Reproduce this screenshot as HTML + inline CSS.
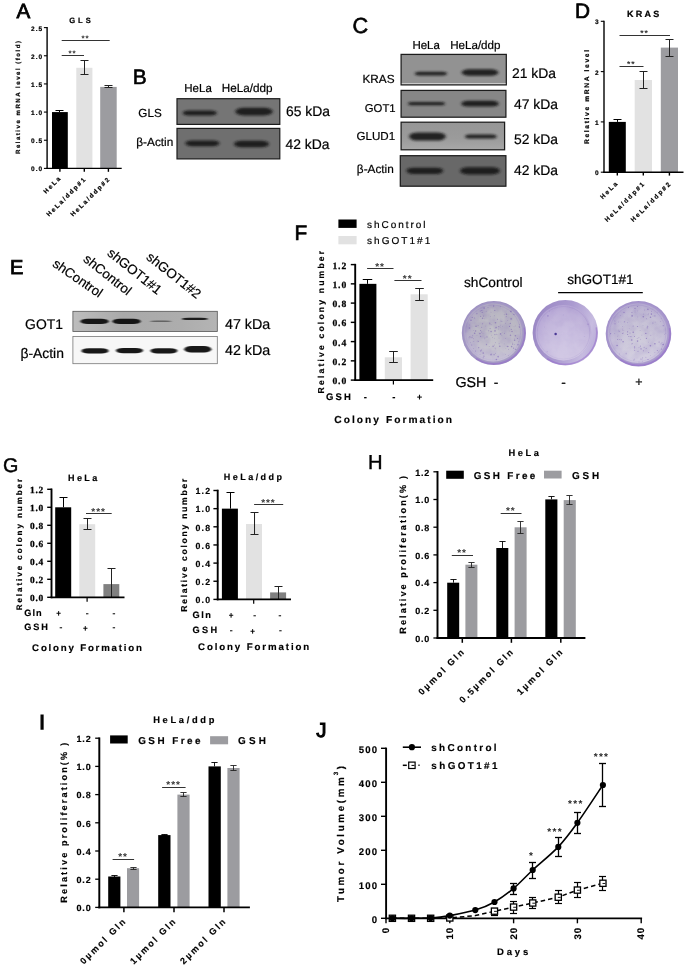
<!DOCTYPE html>
<html><head><meta charset="utf-8"><title>Figure</title>
<style>html,body{margin:0;padding:0;background:#fff}svg{display:block}text{white-space:pre;text-rendering:geometricPrecision}</style></head>
<body><svg width="685" height="967" viewBox="0 0 685 967">
<rect width="685" height="967" fill="#fff"/>
<defs>
<filter id="b1" x="-20%" y="-80%" width="140%" height="260%"><feGaussianBlur stdDeviation="1.5 0.95"/></filter>
<filter id="b2" x="-20%" y="-80%" width="140%" height="260%"><feGaussianBlur stdDeviation="1.3 0.75"/></filter>
<filter id="b4" x="-10%" y="-10%" width="120%" height="120%"><feGaussianBlur stdDeviation="0.7"/></filter>
<filter id="b5" x="-10%" y="-10%" width="120%" height="120%"><feGaussianBlur stdDeviation="0.45"/></filter>
<filter id="b3" x="-10%" y="-10%" width="120%" height="120%"><feGaussianBlur stdDeviation="1.2"/></filter>
<radialGradient id="rim1" cx="50%" cy="50%" r="50%"><stop offset="0.85" stop-color="#aaa0c6"/><stop offset="0.95" stop-color="#a296c4"/><stop offset="1" stop-color="#9c8fc0"/></radialGradient>
<linearGradient id="rim2" x1="0" x2="1" y1="0.3" y2="0.6"><stop offset="0" stop-color="#9a87c4"/><stop offset="0.5" stop-color="#ab9bd0"/><stop offset="0.85" stop-color="#c7bce0"/><stop offset="1" stop-color="#b9acd8"/></linearGradient>
<radialGradient id="rim3" cx="50%" cy="50%" r="50%"><stop offset="0.85" stop-color="#b0a3d0"/><stop offset="0.95" stop-color="#a695cc"/><stop offset="1" stop-color="#9f8ec8"/></radialGradient>
<radialGradient id="d1" cx="56%" cy="45%" r="58%"><stop offset="0" stop-color="#bfbec5"/><stop offset="0.6" stop-color="#b7b4c1"/><stop offset="1" stop-color="#aaa0c4"/></radialGradient>
<radialGradient id="d2" cx="55%" cy="55%" r="58%"><stop offset="0" stop-color="#c9bee0"/><stop offset="0.65" stop-color="#c0b3da"/><stop offset="1" stop-color="#b3a3d4"/></radialGradient>
<radialGradient id="d3" cx="52%" cy="52%" r="58%"><stop offset="0" stop-color="#c9c5d6"/><stop offset="0.65" stop-color="#c2bcd4"/><stop offset="1" stop-color="#b1a4d0"/></radialGradient>
<linearGradient id="ge1" x1="0" x2="1" y1="0" y2="0"><stop offset="0" stop-color="#bdbdbd"/><stop offset="0.35" stop-color="#a9a9a9"/><stop offset="0.75" stop-color="#adadad"/><stop offset="1" stop-color="#b4b4b4"/></linearGradient>
<linearGradient id="gc3" x1="0" x2="0" y1="0" y2="1"><stop offset="0" stop-color="#969696"/><stop offset="0.6" stop-color="#9b9b9b"/><stop offset="1" stop-color="#a8a8a8"/></linearGradient>
<filter id="mottle" x="0" y="0" width="100%" height="100%"><feTurbulence type="fractalNoise" baseFrequency="0.09" numOctaves="3" seed="4" result="n"/><feColorMatrix in="n" type="matrix" values="0 0 0 0 0  0 0 0 0 0  0 0 0 0 0  0 1.6 0 0 -0.62" result="a"/><feComposite in="SourceGraphic" in2="a" operator="in"/></filter>
<linearGradient id="lite" x1="0" x2="0" y1="0" y2="1"><stop offset="0" stop-color="#fff" stop-opacity="0"/><stop offset="0.45" stop-color="#fff" stop-opacity="0.05"/><stop offset="1" stop-color="#fff" stop-opacity="0.32"/></linearGradient>
</defs>
<text x="16.4" y="18.0" font-family="Liberation Sans, Arial, sans-serif" font-size="20.6" font-weight="normal" text-anchor="start" fill="#000" stroke="#000" stroke-width="0.8">A</text>
<text x="69.2" y="23.3" font-family="Liberation Sans, Arial, sans-serif" font-size="7.6" font-weight="bold" text-anchor="start" textLength="21.6" lengthAdjust="spacing" fill="#000" stroke="#000" stroke-width="0.2">GLS</text>
<rect x="52.00" y="112.08" width="15.80" height="56.32" fill="#000"/>
<rect x="76.30" y="67.80" width="16.10" height="100.60" fill="#e2e2e2"/>
<rect x="100.20" y="86.90" width="16.50" height="81.50" fill="#9c9ca0"/>
<line x1="59.50" y1="110.50" x2="59.50" y2="112.08" stroke="#000" stroke-width="1.05" stroke-linecap="butt"/>
<line x1="55.50" y1="110.50" x2="63.50" y2="110.50" stroke="#000" stroke-width="1.05" stroke-linecap="butt"/>
<line x1="84.50" y1="60.50" x2="84.50" y2="74.50" stroke="#222" stroke-width="1.05" stroke-linecap="butt"/>
<line x1="80.50" y1="60.50" x2="88.50" y2="60.50" stroke="#222" stroke-width="1.05" stroke-linecap="butt"/>
<line x1="80.50" y1="74.50" x2="88.50" y2="74.50" stroke="#222" stroke-width="1.05" stroke-linecap="butt"/>
<line x1="108.50" y1="85.50" x2="108.50" y2="87.50" stroke="#222" stroke-width="1.05" stroke-linecap="butt"/>
<line x1="104.50" y1="85.50" x2="112.50" y2="85.50" stroke="#222" stroke-width="1.05" stroke-linecap="butt"/>
<line x1="104.50" y1="87.50" x2="112.50" y2="87.50" stroke="#222" stroke-width="1.05" stroke-linecap="butt"/>
<line x1="47.10" y1="27.00" x2="47.10" y2="169.10" stroke="#000" stroke-width="1.4" stroke-linecap="butt"/>
<line x1="46.40" y1="168.40" x2="121.70" y2="168.40" stroke="#000" stroke-width="1.4" stroke-linecap="butt"/>
<line x1="43.90" y1="168.40" x2="47.10" y2="168.40" stroke="#000" stroke-width="1.1" stroke-linecap="butt"/>
<text x="30.9" y="171.4" font-family="Liberation Sans, Arial, sans-serif" font-size="6.5" font-weight="bold" text-anchor="start" textLength="11.3" lengthAdjust="spacing" fill="#000" stroke="#000" stroke-width="0.2">0.0</text>
<line x1="43.90" y1="140.24" x2="47.10" y2="140.24" stroke="#000" stroke-width="1.1" stroke-linecap="butt"/>
<text x="30.9" y="143.24" font-family="Liberation Sans, Arial, sans-serif" font-size="6.5" font-weight="bold" text-anchor="start" textLength="11.3" lengthAdjust="spacing" fill="#000" stroke="#000" stroke-width="0.2">0.5</text>
<line x1="43.90" y1="112.08" x2="47.10" y2="112.08" stroke="#000" stroke-width="1.1" stroke-linecap="butt"/>
<text x="30.9" y="115.08" font-family="Liberation Sans, Arial, sans-serif" font-size="6.5" font-weight="bold" text-anchor="start" textLength="11.3" lengthAdjust="spacing" fill="#000" stroke="#000" stroke-width="0.2">1.0</text>
<line x1="43.90" y1="83.92" x2="47.10" y2="83.92" stroke="#000" stroke-width="1.1" stroke-linecap="butt"/>
<text x="30.9" y="86.91999999999999" font-family="Liberation Sans, Arial, sans-serif" font-size="6.5" font-weight="bold" text-anchor="start" textLength="11.3" lengthAdjust="spacing" fill="#000" stroke="#000" stroke-width="0.2">1.5</text>
<line x1="43.90" y1="55.76" x2="47.10" y2="55.76" stroke="#000" stroke-width="1.1" stroke-linecap="butt"/>
<text x="30.9" y="58.75999999999999" font-family="Liberation Sans, Arial, sans-serif" font-size="6.5" font-weight="bold" text-anchor="start" textLength="11.3" lengthAdjust="spacing" fill="#000" stroke="#000" stroke-width="0.2">2.0</text>
<line x1="43.90" y1="27.60" x2="47.10" y2="27.60" stroke="#000" stroke-width="1.1" stroke-linecap="butt"/>
<text x="30.9" y="30.599999999999994" font-family="Liberation Sans, Arial, sans-serif" font-size="6.5" font-weight="bold" text-anchor="start" textLength="11.3" lengthAdjust="spacing" fill="#000" stroke="#000" stroke-width="0.2">2.5</text>
<line x1="59.90" y1="168.40" x2="59.90" y2="171.80" stroke="#000" stroke-width="1.4" stroke-linecap="butt"/>
<line x1="84.30" y1="168.40" x2="84.30" y2="171.80" stroke="#000" stroke-width="1.4" stroke-linecap="butt"/>
<line x1="108.40" y1="168.40" x2="108.40" y2="171.80" stroke="#000" stroke-width="1.4" stroke-linecap="butt"/>
<text x="19.8" y="97.5" font-family="Liberation Sans, Arial, sans-serif" font-size="6.1" font-weight="bold" text-anchor="middle" textLength="113" lengthAdjust="spacing" fill="#000" transform="rotate(-90 19.8 97.5)" stroke="#000" stroke-width="0.2">Relative mRNA level (fold)</text>
<line x1="61.70" y1="40.50" x2="109.70" y2="40.50" stroke="#333" stroke-width="1.0" stroke-linecap="butt"/>
<text x="85.4" y="41.29600000000001" font-family="Liberation Sans, Arial, sans-serif" font-size="8.0" font-weight="bold" text-anchor="middle" letter-spacing="0.8999999999999999" fill="#333" stroke="#333" stroke-width="0.01">**</text>
<line x1="61.70" y1="55.50" x2="84.00" y2="55.50" stroke="#333" stroke-width="1.0" stroke-linecap="butt"/>
<text x="72.55" y="56.29600000000001" font-family="Liberation Sans, Arial, sans-serif" font-size="8.0" font-weight="bold" text-anchor="middle" letter-spacing="0.8999999999999999" fill="#333" stroke="#333" stroke-width="0.01">**</text>
<text x="62.0" y="178.1" font-family="Liberation Sans, Arial, sans-serif" font-size="6.3" font-weight="bold" text-anchor="end" letter-spacing="1.8" fill="#000" transform="rotate(-45 62.0 178.1)" stroke="#000" stroke-width="0.2">HeLa</text>
<text x="86.89999999999999" y="178.9" font-family="Liberation Sans, Arial, sans-serif" font-size="6.3" font-weight="bold" text-anchor="end" letter-spacing="1.8" fill="#000" transform="rotate(-45 86.89999999999999 178.9)" stroke="#000" stroke-width="0.2">HeLa/ddp#1</text>
<text x="111.0" y="178.9" font-family="Liberation Sans, Arial, sans-serif" font-size="6.3" font-weight="bold" text-anchor="end" letter-spacing="1.8" fill="#000" transform="rotate(-45 111.0 178.9)" stroke="#000" stroke-width="0.2">HeLa/ddp#2</text>
<text x="575.0" y="18.4" font-family="Liberation Sans, Arial, sans-serif" font-size="20.8" font-weight="normal" text-anchor="start" fill="#000" stroke="#000" stroke-width="0.7">D</text>
<text x="627" y="17.4" font-family="Liberation Sans, Arial, sans-serif" font-size="9" font-weight="bold" text-anchor="start" textLength="32.3" lengthAdjust="spacing" fill="#000" stroke="#000" stroke-width="0.2">KRAS</text>
<rect x="608.80" y="121.90" width="17.00" height="50.30" fill="#000"/>
<rect x="634.70" y="80.00" width="17.30" height="92.20" fill="#e2e2e2"/>
<rect x="660.80" y="47.60" width="17.20" height="124.60" fill="#9c9ca0"/>
<line x1="617.50" y1="119.50" x2="617.50" y2="121.90" stroke="#000" stroke-width="1.05" stroke-linecap="butt"/>
<line x1="613.50" y1="119.50" x2="621.50" y2="119.50" stroke="#000" stroke-width="1.05" stroke-linecap="butt"/>
<line x1="643.50" y1="71.50" x2="643.50" y2="88.50" stroke="#222" stroke-width="1.05" stroke-linecap="butt"/>
<line x1="639.50" y1="71.50" x2="647.50" y2="71.50" stroke="#222" stroke-width="1.05" stroke-linecap="butt"/>
<line x1="639.50" y1="88.50" x2="647.50" y2="88.50" stroke="#222" stroke-width="1.05" stroke-linecap="butt"/>
<line x1="669.50" y1="39.50" x2="669.50" y2="56.50" stroke="#222" stroke-width="1.05" stroke-linecap="butt"/>
<line x1="665.50" y1="39.50" x2="673.50" y2="39.50" stroke="#222" stroke-width="1.05" stroke-linecap="butt"/>
<line x1="665.50" y1="56.50" x2="673.50" y2="56.50" stroke="#222" stroke-width="1.05" stroke-linecap="butt"/>
<line x1="604.00" y1="20.70" x2="604.00" y2="172.90" stroke="#000" stroke-width="1.4" stroke-linecap="butt"/>
<line x1="603.30" y1="172.20" x2="683.50" y2="172.20" stroke="#000" stroke-width="1.4" stroke-linecap="butt"/>
<line x1="600.80" y1="172.20" x2="604.00" y2="172.20" stroke="#000" stroke-width="1.1" stroke-linecap="butt"/>
<text x="598.5" y="175.2" font-family="Liberation Sans, Arial, sans-serif" font-size="6.5" font-weight="bold" text-anchor="end" fill="#000" stroke="#000" stroke-width="0.2">0</text>
<line x1="600.80" y1="121.90" x2="604.00" y2="121.90" stroke="#000" stroke-width="1.1" stroke-linecap="butt"/>
<text x="598.5" y="124.89999999999999" font-family="Liberation Sans, Arial, sans-serif" font-size="6.5" font-weight="bold" text-anchor="end" fill="#000" stroke="#000" stroke-width="0.2">1</text>
<line x1="600.80" y1="71.60" x2="604.00" y2="71.60" stroke="#000" stroke-width="1.1" stroke-linecap="butt"/>
<text x="598.5" y="74.6" font-family="Liberation Sans, Arial, sans-serif" font-size="6.5" font-weight="bold" text-anchor="end" fill="#000" stroke="#000" stroke-width="0.2">2</text>
<line x1="600.80" y1="21.30" x2="604.00" y2="21.30" stroke="#000" stroke-width="1.1" stroke-linecap="butt"/>
<text x="598.5" y="24.30000000000001" font-family="Liberation Sans, Arial, sans-serif" font-size="6.5" font-weight="bold" text-anchor="end" fill="#000" stroke="#000" stroke-width="0.2">3</text>
<line x1="617.30" y1="172.20" x2="617.30" y2="175.60" stroke="#000" stroke-width="1.4" stroke-linecap="butt"/>
<line x1="643.30" y1="172.20" x2="643.30" y2="175.60" stroke="#000" stroke-width="1.4" stroke-linecap="butt"/>
<line x1="669.40" y1="172.20" x2="669.40" y2="175.60" stroke="#000" stroke-width="1.4" stroke-linecap="butt"/>
<text x="588.7" y="97" font-family="Liberation Sans, Arial, sans-serif" font-size="6.7" font-weight="bold" text-anchor="middle" textLength="94" lengthAdjust="spacing" fill="#000" transform="rotate(-90 588.7 97)" stroke="#000" stroke-width="0.2">Relative mRNA level</text>
<line x1="619.50" y1="35.50" x2="670.00" y2="35.50" stroke="#333" stroke-width="1.0" stroke-linecap="butt"/>
<text x="644.45" y="36.452" font-family="Liberation Sans, Arial, sans-serif" font-size="8.5" font-weight="bold" text-anchor="middle" letter-spacing="0.8999999999999999" fill="#333" stroke="#333" stroke-width="0.01">**</text>
<line x1="619.50" y1="66.50" x2="643.50" y2="66.50" stroke="#333" stroke-width="1.0" stroke-linecap="butt"/>
<text x="631.2" y="67.452" font-family="Liberation Sans, Arial, sans-serif" font-size="8.5" font-weight="bold" text-anchor="middle" letter-spacing="0.8999999999999999" fill="#333" stroke="#333" stroke-width="0.01">**</text>
<text x="619.0" y="183.2" font-family="Liberation Sans, Arial, sans-serif" font-size="6.4" font-weight="bold" text-anchor="end" letter-spacing="1.85" fill="#000" transform="rotate(-45 619.0 183.2)" stroke="#000" stroke-width="0.2">HeLa</text>
<text x="645.9" y="183.6" font-family="Liberation Sans, Arial, sans-serif" font-size="6.4" font-weight="bold" text-anchor="end" letter-spacing="1.85" fill="#000" transform="rotate(-45 645.9 183.6)" stroke="#000" stroke-width="0.2">HeLa/ddp#1</text>
<text x="672.0" y="183.6" font-family="Liberation Sans, Arial, sans-serif" font-size="6.4" font-weight="bold" text-anchor="end" letter-spacing="1.85" fill="#000" transform="rotate(-45 672.0 183.6)" stroke="#000" stroke-width="0.2">HeLa/ddp#2</text>
<text x="132.7" y="83.9" font-family="Liberation Sans, Arial, sans-serif" font-size="20.9" font-weight="normal" text-anchor="start" fill="#000" stroke="#000" stroke-width="0.6">B</text>
<text x="184.3" y="91.6" font-family="Liberation Sans, Arial, sans-serif" font-size="11.5" font-weight="normal" text-anchor="start" fill="#000" stroke="#000" stroke-width="0.2">HeLa</text>
<text x="221.8" y="91.6" font-family="Liberation Sans, Arial, sans-serif" font-size="11.7" font-weight="normal" text-anchor="start" fill="#000" stroke="#000" stroke-width="0.2">HeLa/ddp</text>
<rect x="177.00" y="98.70" width="102.80" height="25.70" fill="#757575" stroke="#1c1c1c" stroke-width="1.2"/>
<rect x="177.00" y="128.40" width="102.80" height="30.50" fill="#6f6f6f" stroke="#1c1c1c" stroke-width="1.2"/>
<g filter="url(#b1)" opacity="0.9"><rect x="182.80" y="110.40" width="34.00" height="5.20" rx="5.72" ry="2.60" fill="#141414"/></g>
<g filter="url(#b1)" opacity="0.9"><rect x="235.25" y="107.75" width="37.50" height="7.70" rx="8.47" ry="3.85" fill="#141414"/></g>
<g filter="url(#b1)" opacity="0.9"><rect x="185.40" y="140.45" width="34.00" height="5.70" rx="6.27" ry="2.85" fill="#141414"/></g>
<g filter="url(#b1)" opacity="0.9"><rect x="234.00" y="140.65" width="35.00" height="6.70" rx="7.37" ry="3.35" fill="#141414"/></g>
<text x="138.3" y="116.6" font-family="Liberation Sans, Arial, sans-serif" font-size="11.7" font-weight="normal" text-anchor="start" fill="#000" stroke="#000" stroke-width="0.2">GLS</text>
<text x="136.3" y="146.2" font-family="Liberation Sans, Arial, sans-serif" font-size="11.8" font-weight="normal" text-anchor="start" fill="#000" stroke="#000" stroke-width="0.2">β-Actin</text>
<text x="286" y="115.6" font-family="Liberation Sans, Arial, sans-serif" font-size="13.9" font-weight="normal" text-anchor="start" fill="#000" stroke="#000" stroke-width="0.2">65 kDa</text>
<text x="285.5" y="148.5" font-family="Liberation Sans, Arial, sans-serif" font-size="13.9" font-weight="normal" text-anchor="start" fill="#000" stroke="#000" stroke-width="0.2">42 kDa</text>
<text x="352.6" y="33.1" font-family="Liberation Sans, Arial, sans-serif" font-size="21.7" font-weight="normal" text-anchor="start" fill="#000" stroke="#000" stroke-width="0.6">C</text>
<text x="412.4" y="48.5" font-family="Liberation Sans, Arial, sans-serif" font-size="11.5" font-weight="normal" text-anchor="start" fill="#000" stroke="#000" stroke-width="0.2">HeLa</text>
<text x="450.2" y="48.5" font-family="Liberation Sans, Arial, sans-serif" font-size="11.6" font-weight="normal" text-anchor="start" fill="#000" stroke="#000" stroke-width="0.2">HeLa/ddp</text>
<rect x="401.10" y="54.40" width="105.20" height="30.50" fill="#929292" stroke="#1c1c1c" stroke-width="1.25"/>
<rect x="401.10" y="90.40" width="104.80" height="26.80" fill="#868686" stroke="#1c1c1c" stroke-width="1.25"/>
<rect x="401.10" y="122.20" width="103.50" height="27.60" fill="url(#gc3)" stroke="#1c1c1c" stroke-width="1.25"/>
<rect x="400.30" y="155.70" width="105.60" height="30.50" fill="#686868" stroke="#1c1c1c" stroke-width="1.25"/>
<line x1="401.80" y1="83.60" x2="505.60" y2="83.60" stroke="#d8d8d8" stroke-width="0.9" stroke-linecap="butt"/>
<g filter="url(#b1)" opacity="0.9"><rect x="414.90" y="71.75" width="32.00" height="3.70" rx="4.07" ry="1.85" fill="#141414"/></g>
<g filter="url(#b1)" opacity="0.9"><rect x="461.65" y="69.15" width="36.70" height="6.70" rx="7.37" ry="3.35" fill="#141414"/></g>
<g filter="url(#b1)" opacity="0.9"><rect x="408.15" y="102.10" width="36.70" height="3.20" rx="3.52" ry="1.60" fill="#141414"/></g>
<g filter="url(#b1)" opacity="0.9"><rect x="461.25" y="100.85" width="37.50" height="5.70" rx="6.27" ry="2.85" fill="#141414"/></g>
<g filter="url(#b1)" opacity="0.9"><rect x="409.05" y="132.40" width="36.70" height="8.20" rx="9.02" ry="4.10" fill="#141414"/></g>
<g filter="url(#b1)" opacity="0.9"><rect x="465.10" y="134.40" width="31.40" height="4.20" rx="4.62" ry="2.10" fill="#141414"/></g>
<g filter="url(#b1)" opacity="0.9"><rect x="406.45" y="167.70" width="36.70" height="6.20" rx="6.82" ry="3.10" fill="#141414"/></g>
<g filter="url(#b1)" opacity="0.9"><rect x="460.00" y="167.20" width="40.00" height="7.20" rx="7.92" ry="3.60" fill="#141414"/></g>
<text x="394.6" y="82.6" font-family="Liberation Sans, Arial, sans-serif" font-size="11.8" font-weight="normal" text-anchor="end" fill="#000" stroke="#000" stroke-width="0.2">KRAS</text>
<text x="395.6" y="111.8" font-family="Liberation Sans, Arial, sans-serif" font-size="11.3" font-weight="normal" text-anchor="end" fill="#000" stroke="#000" stroke-width="0.2">GOT1</text>
<text x="395.2" y="139.8" font-family="Liberation Sans, Arial, sans-serif" font-size="11.6" font-weight="normal" text-anchor="end" fill="#000" stroke="#000" stroke-width="0.2">GLUD1</text>
<text x="393.8" y="172.9" font-family="Liberation Sans, Arial, sans-serif" font-size="11.8" font-weight="normal" text-anchor="end" fill="#000" stroke="#000" stroke-width="0.2">β-Actin</text>
<text x="512" y="78.4" font-family="Liberation Sans, Arial, sans-serif" font-size="13.9" font-weight="normal" text-anchor="start" fill="#000" stroke="#000" stroke-width="0.2">21 kDa</text>
<text x="514" y="109.3" font-family="Liberation Sans, Arial, sans-serif" font-size="13.9" font-weight="normal" text-anchor="start" fill="#000" stroke="#000" stroke-width="0.2">47 kDa</text>
<text x="514" y="143.5" font-family="Liberation Sans, Arial, sans-serif" font-size="13.9" font-weight="normal" text-anchor="start" fill="#000" stroke="#000" stroke-width="0.2">52 kDa</text>
<text x="514" y="174.6" font-family="Liberation Sans, Arial, sans-serif" font-size="13.9" font-weight="normal" text-anchor="start" fill="#000" stroke="#000" stroke-width="0.2">42 kDa</text>
<text x="9.9" y="274.2" font-family="Liberation Sans, Arial, sans-serif" font-size="20.0" font-weight="normal" text-anchor="start" fill="#000" stroke="#000" stroke-width="0.8">E</text>
<text x="51.8" y="265.8" font-family="Liberation Sans, Arial, sans-serif" font-size="13.3" font-weight="normal" text-anchor="start" fill="#000" transform="rotate(34.5 51.8 265.8)" stroke="#000" stroke-width="0.2">shControl</text>
<text x="82.5" y="260.5" font-family="Liberation Sans, Arial, sans-serif" font-size="13.3" font-weight="normal" text-anchor="start" fill="#000" transform="rotate(38.5 82.5 260.5)" stroke="#000" stroke-width="0.2">shControl</text>
<text x="106.5" y="254.5" font-family="Liberation Sans, Arial, sans-serif" font-size="13.3" font-weight="normal" text-anchor="start" fill="#000" transform="rotate(38.5 106.5 254.5)" stroke="#000" stroke-width="0.2">shGOT1#1</text>
<text x="145.6" y="258.5" font-family="Liberation Sans, Arial, sans-serif" font-size="13.3" font-weight="normal" text-anchor="start" fill="#000" transform="rotate(38.5 145.6 258.5)" stroke="#000" stroke-width="0.2">shGOT1#2</text>
<rect x="72.90" y="311.30" width="144.40" height="20.20" fill="url(#ge1)" stroke="#555" stroke-width="0.8"/>
<rect x="72.90" y="336.40" width="144.40" height="27.30" fill="#f7f7f7" stroke="#777" stroke-width="0.8"/>
<rect x="80.50" y="318.80" width="28.00" height="5.20" rx="7.00" ry="2.60" fill="#0c0c0c" opacity="0.95" filter="url(#b2)"/>
<rect x="112.60" y="318.80" width="28.00" height="5.20" rx="7.00" ry="2.60" fill="#0c0c0c" opacity="0.95" filter="url(#b2)"/>
<rect x="149.80" y="320.50" width="22.00" height="1.40" rx="7.00" ry="0.70" fill="#0c0c0c" opacity="0.45" filter="url(#b2)"/>
<rect x="181.90" y="317.70" width="26.00" height="2.40" rx="7.00" ry="1.20" fill="#0c0c0c" opacity="0.9" filter="url(#b2)"/>
<rect x="81.50" y="348.25" width="27.00" height="5.30" rx="7.00" ry="2.65" fill="#0c0c0c" opacity="0.95" filter="url(#b2)"/>
<rect x="116.00" y="347.95" width="27.00" height="5.30" rx="7.00" ry="2.65" fill="#0c0c0c" opacity="0.95" filter="url(#b2)"/>
<rect x="150.40" y="348.15" width="27.00" height="5.30" rx="7.00" ry="2.65" fill="#0c0c0c" opacity="0.95" filter="url(#b2)"/>
<rect x="184.30" y="346.00" width="27.00" height="6.40" rx="7.00" ry="3.20" fill="#0c0c0c" opacity="0.95" filter="url(#b2)"/>
<text x="25.1" y="328.9" font-family="Liberation Sans, Arial, sans-serif" font-size="13.9" font-weight="normal" text-anchor="start" fill="#000" stroke="#000" stroke-width="0.2">GOT1</text>
<text x="20.4" y="357.9" font-family="Liberation Sans, Arial, sans-serif" font-size="13.9" font-weight="normal" text-anchor="start" fill="#000" stroke="#000" stroke-width="0.2">β-Actin</text>
<text x="225.0" y="329" font-family="Liberation Sans, Arial, sans-serif" font-size="14.3" font-weight="normal" text-anchor="start" fill="#000" stroke="#000" stroke-width="0.2">47 kDa</text>
<text x="225.0" y="354.5" font-family="Liberation Sans, Arial, sans-serif" font-size="14.3" font-weight="normal" text-anchor="start" fill="#000" stroke="#000" stroke-width="0.2">42 kDa</text>
<text x="294.5" y="239.8" font-family="Liberation Sans, Arial, sans-serif" font-size="20.9" font-weight="normal" text-anchor="start" fill="#000" stroke="#000" stroke-width="0.65">F</text>
<rect x="338.40" y="219.50" width="18.20" height="8.40" fill="#000"/>
<rect x="338.40" y="236.00" width="18.20" height="8.30" fill="#e2e2e2"/>
<text x="367" y="228.4" font-family="Liberation Sans, Arial, sans-serif" font-size="10" font-weight="normal" text-anchor="start" textLength="58.6" lengthAdjust="spacing" fill="#000" stroke="#000" stroke-width="0.2">shControl</text>
<text x="367" y="244.3" font-family="Liberation Sans, Arial, sans-serif" font-size="10" font-weight="normal" text-anchor="start" textLength="63.3" lengthAdjust="spacing" fill="#000" stroke="#000" stroke-width="0.2">shGOT1#1</text>
<rect x="359.40" y="283.85" width="17.00" height="96.25" fill="#000"/>
<rect x="384.80" y="357.30" width="17.20" height="22.80" fill="#e2e2e2"/>
<rect x="410.60" y="294.30" width="17.10" height="85.80" fill="#e2e2e2"/>
<line x1="367.50" y1="279.50" x2="367.50" y2="283.85" stroke="#000" stroke-width="1.05" stroke-linecap="butt"/>
<line x1="362.75" y1="279.50" x2="372.25" y2="279.50" stroke="#000" stroke-width="1.05" stroke-linecap="butt"/>
<line x1="393.50" y1="351.50" x2="393.50" y2="362.50" stroke="#222" stroke-width="1.05" stroke-linecap="butt"/>
<line x1="389.20" y1="351.50" x2="397.80" y2="351.50" stroke="#222" stroke-width="1.05" stroke-linecap="butt"/>
<line x1="389.20" y1="362.50" x2="397.80" y2="362.50" stroke="#222" stroke-width="1.05" stroke-linecap="butt"/>
<line x1="419.50" y1="288.50" x2="419.50" y2="300.50" stroke="#222" stroke-width="1.05" stroke-linecap="butt"/>
<line x1="415.20" y1="288.50" x2="423.80" y2="288.50" stroke="#222" stroke-width="1.05" stroke-linecap="butt"/>
<line x1="415.20" y1="300.50" x2="423.80" y2="300.50" stroke="#222" stroke-width="1.05" stroke-linecap="butt"/>
<line x1="355.20" y1="263.85" x2="355.20" y2="381.00" stroke="#000" stroke-width="1.9" stroke-linecap="butt"/>
<line x1="354.30" y1="380.10" x2="433.20" y2="380.10" stroke="#000" stroke-width="1.8" stroke-linecap="butt"/>
<line x1="350.80" y1="380.10" x2="355.40" y2="380.10" stroke="#000" stroke-width="1.45" stroke-linecap="butt"/>
<text x="332.4" y="384.1" font-family="Liberation Serif, Times New Roman, serif" font-size="9.6" font-weight="bold" text-anchor="start" textLength="13.8" lengthAdjust="spacing" fill="#000" stroke="#000" stroke-width="0.25">0.0</text>
<line x1="350.80" y1="360.85" x2="355.40" y2="360.85" stroke="#000" stroke-width="1.45" stroke-linecap="butt"/>
<text x="332.4" y="364.85" font-family="Liberation Serif, Times New Roman, serif" font-size="9.6" font-weight="bold" text-anchor="start" textLength="13.8" lengthAdjust="spacing" fill="#000" stroke="#000" stroke-width="0.25">0.2</text>
<line x1="350.80" y1="341.60" x2="355.40" y2="341.60" stroke="#000" stroke-width="1.45" stroke-linecap="butt"/>
<text x="332.4" y="345.6" font-family="Liberation Serif, Times New Roman, serif" font-size="9.6" font-weight="bold" text-anchor="start" textLength="13.8" lengthAdjust="spacing" fill="#000" stroke="#000" stroke-width="0.25">0.4</text>
<line x1="350.80" y1="322.35" x2="355.40" y2="322.35" stroke="#000" stroke-width="1.45" stroke-linecap="butt"/>
<text x="332.4" y="326.35" font-family="Liberation Serif, Times New Roman, serif" font-size="9.6" font-weight="bold" text-anchor="start" textLength="13.8" lengthAdjust="spacing" fill="#000" stroke="#000" stroke-width="0.25">0.6</text>
<line x1="350.80" y1="303.10" x2="355.40" y2="303.10" stroke="#000" stroke-width="1.45" stroke-linecap="butt"/>
<text x="332.4" y="307.1" font-family="Liberation Serif, Times New Roman, serif" font-size="9.6" font-weight="bold" text-anchor="start" textLength="13.8" lengthAdjust="spacing" fill="#000" stroke="#000" stroke-width="0.25">0.8</text>
<line x1="350.80" y1="283.85" x2="355.40" y2="283.85" stroke="#000" stroke-width="1.45" stroke-linecap="butt"/>
<text x="332.4" y="287.85" font-family="Liberation Serif, Times New Roman, serif" font-size="9.6" font-weight="bold" text-anchor="start" textLength="13.8" lengthAdjust="spacing" fill="#000" stroke="#000" stroke-width="0.25">1.0</text>
<line x1="350.80" y1="264.60" x2="355.40" y2="264.60" stroke="#000" stroke-width="1.45" stroke-linecap="butt"/>
<text x="332.4" y="268.6" font-family="Liberation Serif, Times New Roman, serif" font-size="9.6" font-weight="bold" text-anchor="start" textLength="13.8" lengthAdjust="spacing" fill="#000" stroke="#000" stroke-width="0.25">1.2</text>
<line x1="393.40" y1="380.10" x2="393.40" y2="384.50" stroke="#000" stroke-width="1.2" stroke-linecap="butt"/>
<text x="323.8" y="322.15" font-family="Liberation Sans, Arial, sans-serif" font-size="8.6" font-weight="bold" text-anchor="middle" textLength="142.5" lengthAdjust="spacing" fill="#000" transform="rotate(-90 323.8 322.15)" stroke="#000" stroke-width="0.16">Relative colony number</text>
<line x1="367.10" y1="268.50" x2="393.50" y2="268.50" stroke="#333" stroke-width="1.0" stroke-linecap="butt"/>
<text x="380.0" y="270.02" font-family="Liberation Sans, Arial, sans-serif" font-size="10.0" font-weight="bold" text-anchor="middle" letter-spacing="0.8999999999999999" fill="#333" stroke="#333" stroke-width="0.01">**</text>
<line x1="394.40" y1="280.50" x2="421.50" y2="280.50" stroke="#333" stroke-width="1.0" stroke-linecap="butt"/>
<text x="407.65" y="282.02" font-family="Liberation Sans, Arial, sans-serif" font-size="10.0" font-weight="bold" text-anchor="middle" letter-spacing="0.8999999999999999" fill="#333" stroke="#333" stroke-width="0.01">**</text>
<text x="326" y="399.8" font-family="Liberation Sans, Arial, sans-serif" font-size="9.5" font-weight="bold" text-anchor="start" textLength="24.8" lengthAdjust="spacing" fill="#000" stroke="#000" stroke-width="0.16">GSH</text>
<text x="365.4" y="399.9" font-family="Liberation Sans, Arial, sans-serif" font-size="9.5" font-weight="bold" text-anchor="middle" fill="#000" stroke="#000" stroke-width="0.16">-</text>
<text x="393.9" y="399.9" font-family="Liberation Sans, Arial, sans-serif" font-size="9.5" font-weight="bold" text-anchor="middle" fill="#000" stroke="#000" stroke-width="0.16">-</text>
<text x="419.6" y="400.2" font-family="Liberation Sans, Arial, sans-serif" font-size="8.6" font-weight="bold" text-anchor="middle" fill="#000" stroke="#000" stroke-width="0.16">+</text>
<text x="334.3" y="423.2" font-family="Liberation Sans, Arial, sans-serif" font-size="10.2" font-weight="bold" text-anchor="start" textLength="117.7" lengthAdjust="spacing" fill="#000" stroke="#000" stroke-width="0.16">Colony Formation</text>
<text x="464" y="287.2" font-family="Liberation Sans, Arial, sans-serif" font-size="13.7" font-weight="normal" text-anchor="start" fill="#000" stroke="#000" stroke-width="0.2">shControl</text>
<text x="567.2" y="284.4" font-family="Liberation Sans, Arial, sans-serif" font-size="13.6" font-weight="normal" text-anchor="start" fill="#000" stroke="#000" stroke-width="0.2">shGOT1#1</text>
<line x1="558.10" y1="292.70" x2="642.80" y2="292.70" stroke="#000" stroke-width="1.3" stroke-linecap="butt"/>
<text x="455.4" y="386.6" font-family="Liberation Sans, Arial, sans-serif" font-size="14.3" font-weight="normal" text-anchor="start" fill="#000" stroke="#000" stroke-width="0.2">GSH</text>
<text x="496" y="386.5" font-family="Liberation Sans, Arial, sans-serif" font-size="13.8" font-weight="normal" text-anchor="middle" fill="#000" stroke="#000" stroke-width="0.2">-</text>
<text x="563.5" y="386.5" font-family="Liberation Sans, Arial, sans-serif" font-size="13.8" font-weight="normal" text-anchor="middle" fill="#000" stroke="#000" stroke-width="0.2">-</text>
<text x="638.8" y="385.8" font-family="Liberation Sans, Arial, sans-serif" font-size="12.5" font-weight="normal" text-anchor="middle" fill="#000" stroke="#000" stroke-width="0.2">+</text>
<circle cx="493.9" cy="333.0" r="32.1" fill="url(#rim1)" filter="url(#b5)"/>
<circle cx="493.09999999999997" cy="332.6" r="29.1" fill="url(#d1)" filter="url(#b4)"/>
<circle cx="493.09999999999997" cy="332.6" r="27.5" fill="none" stroke="#9783c4" stroke-width="0.8" opacity="0.35" filter="url(#b4)"/>
<circle cx="493.09999999999997" cy="332.6" r="28.6" fill="#6b4fae" filter="url(#mottle)" opacity="0.3"/>
<circle cx="493.09999999999997" cy="332.6" r="28.8" fill="url(#lite)"/>
<path d="M524.3,327.6 A30.9,30.9 0 0 1 476.2,358.3" fill="none" stroke="#9468cc" stroke-width="1.6" opacity="0.5" filter="url(#b4)"/>
<g fill="#5a38a6" opacity="0.38"><circle cx="495.4" cy="353.3" r="0.45"/><circle cx="510.3" cy="323.4" r="0.6"/><circle cx="496.8" cy="334.3" r="0.5"/><circle cx="493.1" cy="346.3" r="0.8"/><circle cx="469.1" cy="337.7" r="0.5"/><circle cx="473.5" cy="348.4" r="0.4"/><circle cx="476.9" cy="313.7" r="0.6"/><circle cx="491.3" cy="335.2" r="0.35"/><circle cx="508.5" cy="355.7" r="0.35"/><circle cx="492.4" cy="337.6" r="0.45"/><circle cx="470.8" cy="337.0" r="0.5"/><circle cx="488.0" cy="307.2" r="0.5"/><circle cx="491.0" cy="312.2" r="0.4"/><circle cx="500.1" cy="327.1" r="0.4"/><circle cx="479.9" cy="333.5" r="0.8"/><circle cx="473.8" cy="341.5" r="0.45"/><circle cx="471.7" cy="345.0" r="0.6"/><circle cx="481.4" cy="350.0" r="0.6"/><circle cx="495.7" cy="348.9" r="0.35"/><circle cx="510.9" cy="311.4" r="0.8"/><circle cx="486.2" cy="311.3" r="0.45"/><circle cx="519.5" cy="327.2" r="0.6"/><circle cx="511.6" cy="346.6" r="0.8"/><circle cx="504.2" cy="314.8" r="0.45"/><circle cx="507.5" cy="346.5" r="0.8"/><circle cx="502.1" cy="332.5" r="0.35"/><circle cx="484.8" cy="338.7" r="0.45"/><circle cx="477.9" cy="340.9" r="0.35"/><circle cx="514.7" cy="338.9" r="0.35"/><circle cx="478.7" cy="347.7" r="0.6"/><circle cx="513.9" cy="314.4" r="0.6"/><circle cx="494.4" cy="338.2" r="0.35"/><circle cx="512.8" cy="342.9" r="0.35"/><circle cx="519.7" cy="324.4" r="0.45"/><circle cx="485.5" cy="326.0" r="0.35"/><circle cx="509.9" cy="331.0" r="0.45"/><circle cx="519.2" cy="326.3" r="0.5"/><circle cx="475.5" cy="351.0" r="0.5"/><circle cx="480.7" cy="316.3" r="0.6"/><circle cx="515.7" cy="349.4" r="0.6"/><circle cx="491.0" cy="354.8" r="0.8"/><circle cx="495.1" cy="348.1" r="0.45"/><circle cx="473.6" cy="330.3" r="0.35"/><circle cx="500.5" cy="306.4" r="0.45"/><circle cx="515.4" cy="335.7" r="0.8"/><circle cx="508.6" cy="349.3" r="0.45"/><circle cx="471.7" cy="337.8" r="0.45"/><circle cx="482.6" cy="323.8" r="0.5"/><circle cx="500.6" cy="333.9" r="0.8"/><circle cx="510.5" cy="335.2" r="0.8"/><circle cx="473.4" cy="338.8" r="0.45"/><circle cx="499.1" cy="343.7" r="0.45"/><circle cx="501.8" cy="321.2" r="0.5"/><circle cx="513.6" cy="348.2" r="0.6"/><circle cx="489.9" cy="323.8" r="0.6"/><circle cx="498.1" cy="357.4" r="0.4"/><circle cx="483.2" cy="353.1" r="0.8"/><circle cx="491.1" cy="324.7" r="0.45"/><circle cx="515.4" cy="325.9" r="0.4"/><circle cx="470.3" cy="342.6" r="0.4"/><circle cx="514.7" cy="344.4" r="0.4"/><circle cx="507.8" cy="320.7" r="0.4"/><circle cx="495.1" cy="328.1" r="0.4"/><circle cx="483.9" cy="356.2" r="0.6"/><circle cx="499.8" cy="346.3" r="0.8"/><circle cx="512.6" cy="344.1" r="0.6"/><circle cx="504.1" cy="343.9" r="0.45"/><circle cx="472.5" cy="337.8" r="0.45"/><circle cx="478.4" cy="341.5" r="0.5"/><circle cx="494.9" cy="334.6" r="0.6"/><circle cx="512.0" cy="331.5" r="0.8"/><circle cx="498.1" cy="356.5" r="0.8"/><circle cx="493.6" cy="305.9" r="0.6"/><circle cx="486.8" cy="344.1" r="0.35"/><circle cx="511.0" cy="311.8" r="0.35"/><circle cx="496.1" cy="327.6" r="0.8"/><circle cx="481.6" cy="332.1" r="0.5"/><circle cx="491.1" cy="331.5" r="0.8"/><circle cx="508.1" cy="346.5" r="0.4"/><circle cx="483.5" cy="315.9" r="0.5"/><circle cx="518.8" cy="341.7" r="0.35"/><circle cx="486.4" cy="344.6" r="0.6"/><circle cx="469.7" cy="336.5" r="0.45"/><circle cx="495.7" cy="342.5" r="0.35"/><circle cx="505.6" cy="354.6" r="0.4"/><circle cx="495.0" cy="330.9" r="0.8"/><circle cx="478.1" cy="325.5" r="0.45"/><circle cx="494.1" cy="354.7" r="0.6"/><circle cx="477.1" cy="341.8" r="0.35"/><circle cx="509.0" cy="314.0" r="0.35"/><circle cx="499.0" cy="338.1" r="0.35"/><circle cx="498.8" cy="326.6" r="0.6"/><circle cx="483.0" cy="333.7" r="0.35"/><circle cx="480.7" cy="350.9" r="0.6"/><circle cx="489.2" cy="346.4" r="0.45"/><circle cx="485.0" cy="337.3" r="0.35"/><circle cx="490.3" cy="316.4" r="0.35"/><circle cx="488.7" cy="330.7" r="0.5"/><circle cx="474.6" cy="318.1" r="0.5"/><circle cx="490.1" cy="328.6" r="0.5"/><circle cx="514.6" cy="340.2" r="0.8"/><circle cx="483.2" cy="357.7" r="0.5"/><circle cx="480.6" cy="336.3" r="0.6"/><circle cx="491.2" cy="354.0" r="0.5"/><circle cx="495.5" cy="342.8" r="0.35"/><circle cx="509.5" cy="326.4" r="0.6"/><circle cx="497.5" cy="319.3" r="0.5"/><circle cx="484.1" cy="308.1" r="0.8"/><circle cx="480.3" cy="310.9" r="0.5"/><circle cx="482.2" cy="312.5" r="0.6"/><circle cx="469.5" cy="328.0" r="0.8"/><circle cx="504.4" cy="333.3" r="0.5"/><circle cx="501.9" cy="335.3" r="0.35"/><circle cx="484.8" cy="318.8" r="0.35"/><circle cx="480.0" cy="354.4" r="0.35"/><circle cx="506.5" cy="314.2" r="0.8"/><circle cx="514.0" cy="326.8" r="0.35"/><circle cx="517.5" cy="338.5" r="0.6"/><circle cx="480.6" cy="330.6" r="0.6"/><circle cx="493.7" cy="306.3" r="0.35"/><circle cx="469.4" cy="325.0" r="0.4"/><circle cx="500.3" cy="321.0" r="0.4"/><circle cx="482.6" cy="318.2" r="0.8"/><circle cx="494.3" cy="315.7" r="0.45"/><circle cx="472.2" cy="317.4" r="0.6"/><circle cx="487.0" cy="336.9" r="0.6"/><circle cx="496.4" cy="359.5" r="0.8"/><circle cx="511.3" cy="329.3" r="0.6"/><circle cx="494.8" cy="310.4" r="0.6"/><circle cx="489.6" cy="323.0" r="0.5"/><circle cx="502.4" cy="326.6" r="0.35"/><circle cx="474.7" cy="333.2" r="0.8"/><circle cx="475.6" cy="331.0" r="0.8"/><circle cx="500.3" cy="325.1" r="0.4"/><circle cx="505.9" cy="348.8" r="0.4"/><circle cx="506.0" cy="316.7" r="0.45"/><circle cx="481.8" cy="310.5" r="0.6"/><circle cx="506.7" cy="316.2" r="0.45"/><circle cx="505.7" cy="323.2" r="0.45"/><circle cx="477.0" cy="335.2" r="0.4"/><circle cx="481.7" cy="327.3" r="0.5"/><circle cx="495.5" cy="322.7" r="0.8"/><circle cx="472.7" cy="335.7" r="0.5"/><circle cx="471.0" cy="320.3" r="0.8"/><circle cx="476.0" cy="326.3" r="0.8"/><circle cx="518.0" cy="344.8" r="0.8"/><circle cx="498.3" cy="329.0" r="0.4"/><circle cx="511.1" cy="318.9" r="0.8"/><circle cx="505.6" cy="338.4" r="0.45"/><circle cx="494.5" cy="345.0" r="0.45"/></g>
<circle cx="565.3" cy="332.8" r="32.7" fill="url(#rim2)" filter="url(#b5)"/>
<circle cx="563.5" cy="332.8" r="27.900000000000002" fill="url(#d2)" filter="url(#b4)"/>
<circle cx="563.5" cy="332.8" r="26.3" fill="none" stroke="#9783c4" stroke-width="0.8" opacity="0.35" filter="url(#b4)"/>
<circle cx="563.5" cy="332.8" r="27.400000000000002" fill="#6b4fae" filter="url(#mottle)" opacity="0.1"/>
<circle cx="563.5" cy="332.8" r="27.6" fill="url(#lite)"/>
<path d="M596.3,327.3 A31.5,31.5 0 0 1 547.2,358.6" fill="none" stroke="#9468cc" stroke-width="1.6" opacity="0.5" filter="url(#b4)"/>
<g fill="#5a38a6" opacity="0.3"><circle cx="547.9" cy="315.9" r="0.8"/><circle cx="588.0" cy="324.2" r="0.6"/><circle cx="584.2" cy="336.3" r="0.4"/><circle cx="549.4" cy="311.2" r="0.35"/><circle cx="547.1" cy="351.8" r="0.5"/><circle cx="544.7" cy="327.0" r="0.35"/><circle cx="563.2" cy="314.9" r="0.4"/></g>
<circle cx="555.6" cy="334.1" r="1.25" fill="#3d2a8c" opacity="0.9" filter="url(#b5)"/>
<circle cx="638.5" cy="333.7" r="32.8" fill="url(#rim3)" filter="url(#b5)"/>
<circle cx="637.7" cy="333.3" r="29.799999999999997" fill="url(#d3)" filter="url(#b4)"/>
<circle cx="637.7" cy="333.3" r="28.199999999999996" fill="none" stroke="#9783c4" stroke-width="0.8" opacity="0.35" filter="url(#b4)"/>
<circle cx="637.7" cy="333.3" r="29.299999999999997" fill="#6b4fae" filter="url(#mottle)" opacity="0.25"/>
<circle cx="637.7" cy="333.3" r="29.499999999999996" fill="url(#lite)"/>
<path d="M669.6,328.2 A31.6,31.6 0 0 1 620.4,359.6" fill="none" stroke="#9468cc" stroke-width="1.6" opacity="0.5" filter="url(#b4)"/>
<g fill="#5a38a6" opacity="0.42"><circle cx="642.5" cy="361.2" r="0.4"/><circle cx="640.6" cy="339.2" r="0.4"/><circle cx="639.0" cy="362.0" r="0.4"/><circle cx="634.5" cy="336.6" r="0.5"/><circle cx="619.4" cy="339.5" r="0.4"/><circle cx="652.9" cy="322.9" r="0.5"/><circle cx="638.9" cy="337.7" r="0.45"/><circle cx="619.2" cy="331.2" r="0.5"/><circle cx="635.0" cy="310.9" r="0.35"/><circle cx="645.6" cy="333.3" r="0.6"/><circle cx="643.0" cy="325.5" r="0.35"/><circle cx="626.1" cy="353.7" r="0.5"/><circle cx="655.2" cy="322.1" r="0.4"/><circle cx="629.2" cy="328.5" r="0.35"/><circle cx="633.2" cy="332.3" r="0.8"/><circle cx="648.0" cy="359.5" r="0.6"/><circle cx="617.7" cy="339.6" r="0.5"/><circle cx="634.7" cy="350.2" r="0.5"/><circle cx="654.9" cy="352.3" r="0.35"/><circle cx="623.0" cy="330.6" r="0.45"/><circle cx="663.2" cy="325.7" r="0.6"/><circle cx="627.3" cy="322.7" r="0.45"/><circle cx="618.6" cy="330.1" r="0.35"/><circle cx="647.9" cy="309.2" r="0.8"/><circle cx="622.6" cy="329.1" r="0.35"/><circle cx="634.7" cy="346.4" r="0.35"/><circle cx="623.1" cy="341.7" r="0.8"/><circle cx="647.7" cy="326.2" r="0.5"/><circle cx="658.9" cy="351.9" r="0.35"/><circle cx="645.9" cy="357.3" r="0.45"/><circle cx="657.3" cy="350.6" r="0.5"/><circle cx="632.1" cy="343.5" r="0.5"/><circle cx="647.2" cy="327.8" r="0.6"/><circle cx="621.2" cy="339.8" r="0.6"/><circle cx="660.2" cy="343.9" r="0.35"/><circle cx="646.4" cy="338.4" r="0.6"/><circle cx="627.6" cy="331.8" r="0.6"/><circle cx="627.6" cy="334.5" r="0.6"/><circle cx="641.9" cy="335.1" r="0.4"/><circle cx="626.1" cy="353.0" r="0.35"/><circle cx="637.8" cy="316.9" r="0.45"/><circle cx="664.4" cy="334.2" r="0.4"/><circle cx="659.1" cy="342.0" r="0.6"/><circle cx="646.2" cy="348.2" r="0.5"/><circle cx="630.9" cy="336.6" r="0.6"/><circle cx="642.6" cy="358.9" r="0.4"/><circle cx="631.7" cy="340.0" r="0.8"/><circle cx="628.9" cy="336.6" r="0.5"/><circle cx="630.0" cy="332.9" r="0.5"/><circle cx="615.0" cy="323.7" r="0.5"/><circle cx="640.4" cy="346.1" r="0.5"/><circle cx="648.4" cy="342.1" r="0.35"/><circle cx="632.8" cy="312.3" r="0.35"/><circle cx="624.0" cy="312.4" r="0.6"/><circle cx="661.7" cy="349.1" r="0.6"/><circle cx="614.7" cy="333.3" r="0.4"/><circle cx="622.4" cy="333.5" r="0.5"/><circle cx="637.6" cy="310.9" r="0.35"/><circle cx="634.7" cy="348.6" r="0.35"/><circle cx="637.4" cy="306.5" r="0.5"/><circle cx="641.0" cy="348.9" r="0.6"/><circle cx="617.1" cy="345.5" r="0.8"/><circle cx="650.5" cy="317.3" r="0.8"/><circle cx="646.8" cy="318.9" r="0.45"/><circle cx="633.1" cy="326.1" r="0.5"/><circle cx="619.5" cy="353.9" r="0.45"/><circle cx="643.4" cy="350.8" r="0.5"/><circle cx="651.4" cy="314.1" r="0.8"/><circle cx="635.0" cy="308.3" r="0.6"/><circle cx="618.5" cy="321.9" r="0.4"/><circle cx="618.0" cy="335.0" r="0.35"/><circle cx="637.6" cy="341.1" r="0.8"/><circle cx="657.3" cy="312.8" r="0.35"/><circle cx="620.3" cy="315.6" r="0.45"/><circle cx="634.6" cy="359.1" r="0.45"/><circle cx="633.9" cy="360.0" r="0.5"/><circle cx="639.0" cy="347.7" r="0.4"/><circle cx="644.6" cy="310.0" r="0.4"/><circle cx="641.0" cy="359.1" r="0.6"/><circle cx="646.7" cy="318.6" r="0.35"/><circle cx="643.3" cy="316.7" r="0.8"/><circle cx="648.7" cy="352.4" r="0.5"/><circle cx="660.5" cy="321.7" r="0.4"/><circle cx="650.8" cy="335.4" r="0.45"/><circle cx="654.9" cy="343.7" r="0.8"/><circle cx="661.1" cy="318.5" r="0.35"/><circle cx="650.4" cy="345.8" r="0.8"/><circle cx="661.5" cy="343.8" r="0.35"/><circle cx="653.0" cy="316.0" r="0.45"/><circle cx="646.2" cy="333.5" r="0.4"/><circle cx="635.0" cy="312.1" r="0.45"/><circle cx="642.7" cy="357.7" r="0.45"/><circle cx="663.1" cy="344.5" r="0.8"/><circle cx="624.1" cy="321.9" r="0.4"/><circle cx="638.0" cy="351.3" r="0.5"/><circle cx="637.5" cy="326.5" r="0.6"/><circle cx="641.1" cy="348.8" r="0.4"/><circle cx="631.9" cy="344.5" r="0.35"/><circle cx="662.0" cy="342.5" r="0.4"/><circle cx="648.1" cy="314.8" r="0.45"/><circle cx="634.6" cy="347.1" r="0.6"/><circle cx="617.5" cy="336.5" r="0.35"/><circle cx="665.8" cy="333.2" r="0.4"/><circle cx="640.5" cy="346.8" r="0.4"/><circle cx="650.5" cy="355.3" r="0.35"/><circle cx="632.1" cy="315.9" r="0.8"/><circle cx="624.7" cy="321.8" r="0.5"/><circle cx="614.9" cy="321.0" r="0.45"/><circle cx="628.5" cy="307.5" r="0.5"/><circle cx="654.9" cy="315.9" r="0.6"/><circle cx="644.1" cy="347.2" r="0.5"/><circle cx="651.4" cy="311.2" r="0.45"/><circle cx="610.6" cy="333.7" r="0.6"/><circle cx="643.4" cy="314.1" r="0.4"/><circle cx="622.4" cy="326.3" r="0.4"/><circle cx="648.8" cy="313.4" r="0.35"/><circle cx="637.2" cy="338.6" r="0.45"/><circle cx="623.1" cy="333.1" r="0.5"/><circle cx="631.5" cy="312.5" r="0.4"/><circle cx="640.1" cy="330.7" r="0.4"/></g>
<text x="3.0" y="471.5" font-family="Liberation Sans, Arial, sans-serif" font-size="19.8" font-weight="normal" text-anchor="start" fill="#000" stroke="#000" stroke-width="0.4">G</text>
<text x="68" y="481.3" font-family="Liberation Sans, Arial, sans-serif" font-size="9" font-weight="bold" text-anchor="start" textLength="29.3" lengthAdjust="spacing" fill="#000" stroke="#000" stroke-width="0.16">HeLa</text>
<rect x="55.20" y="507.30" width="16.00" height="90.00" fill="#000"/>
<rect x="79.30" y="524.20" width="15.90" height="73.10" fill="#e2e2e2"/>
<rect x="103.40" y="584.10" width="15.90" height="13.20" fill="#808080"/>
<line x1="63.50" y1="497.50" x2="63.50" y2="507.30" stroke="#000" stroke-width="1.05" stroke-linecap="butt"/>
<line x1="59.50" y1="497.50" x2="67.50" y2="497.50" stroke="#000" stroke-width="1.05" stroke-linecap="butt"/>
<line x1="87.50" y1="518.50" x2="87.50" y2="529.50" stroke="#222" stroke-width="1.05" stroke-linecap="butt"/>
<line x1="83.50" y1="518.50" x2="91.50" y2="518.50" stroke="#222" stroke-width="1.05" stroke-linecap="butt"/>
<line x1="83.50" y1="529.50" x2="91.50" y2="529.50" stroke="#222" stroke-width="1.05" stroke-linecap="butt"/>
<line x1="111.50" y1="568.50" x2="111.50" y2="597.30" stroke="#222" stroke-width="1.05" stroke-linecap="butt"/>
<line x1="107.50" y1="568.50" x2="115.50" y2="568.50" stroke="#222" stroke-width="1.05" stroke-linecap="butt"/>
<line x1="51.50" y1="488.55" x2="51.50" y2="598.20" stroke="#000" stroke-width="1.9" stroke-linecap="butt"/>
<line x1="50.60" y1="597.30" x2="124.50" y2="597.30" stroke="#000" stroke-width="1.8" stroke-linecap="butt"/>
<line x1="47.20" y1="597.30" x2="51.90" y2="597.30" stroke="#000" stroke-width="1.4" stroke-linecap="butt"/>
<text x="29.9" y="601.4" font-family="Liberation Serif, Times New Roman, serif" font-size="9.4" font-weight="bold" text-anchor="start" textLength="13.4" lengthAdjust="spacing" fill="#000" stroke="#000" stroke-width="0.25">0.0</text>
<line x1="47.20" y1="579.30" x2="51.90" y2="579.30" stroke="#000" stroke-width="1.4" stroke-linecap="butt"/>
<text x="29.9" y="583.4" font-family="Liberation Serif, Times New Roman, serif" font-size="9.4" font-weight="bold" text-anchor="start" textLength="13.4" lengthAdjust="spacing" fill="#000" stroke="#000" stroke-width="0.25">0.2</text>
<line x1="47.20" y1="561.30" x2="51.90" y2="561.30" stroke="#000" stroke-width="1.4" stroke-linecap="butt"/>
<text x="29.9" y="565.4" font-family="Liberation Serif, Times New Roman, serif" font-size="9.4" font-weight="bold" text-anchor="start" textLength="13.4" lengthAdjust="spacing" fill="#000" stroke="#000" stroke-width="0.25">0.4</text>
<line x1="47.20" y1="543.30" x2="51.90" y2="543.30" stroke="#000" stroke-width="1.4" stroke-linecap="butt"/>
<text x="29.9" y="547.4" font-family="Liberation Serif, Times New Roman, serif" font-size="9.4" font-weight="bold" text-anchor="start" textLength="13.4" lengthAdjust="spacing" fill="#000" stroke="#000" stroke-width="0.25">0.6</text>
<line x1="47.20" y1="525.30" x2="51.90" y2="525.30" stroke="#000" stroke-width="1.4" stroke-linecap="butt"/>
<text x="29.9" y="529.4" font-family="Liberation Serif, Times New Roman, serif" font-size="9.4" font-weight="bold" text-anchor="start" textLength="13.4" lengthAdjust="spacing" fill="#000" stroke="#000" stroke-width="0.25">0.8</text>
<line x1="47.20" y1="507.30" x2="51.90" y2="507.30" stroke="#000" stroke-width="1.4" stroke-linecap="butt"/>
<text x="29.9" y="511.4" font-family="Liberation Serif, Times New Roman, serif" font-size="9.4" font-weight="bold" text-anchor="start" textLength="13.4" lengthAdjust="spacing" fill="#000" stroke="#000" stroke-width="0.25">1.0</text>
<line x1="47.20" y1="489.30" x2="51.90" y2="489.30" stroke="#000" stroke-width="1.4" stroke-linecap="butt"/>
<text x="29.9" y="493.4" font-family="Liberation Serif, Times New Roman, serif" font-size="9.4" font-weight="bold" text-anchor="start" textLength="13.4" lengthAdjust="spacing" fill="#000" stroke="#000" stroke-width="0.25">1.2</text>
<line x1="87.10" y1="597.30" x2="87.10" y2="601.70" stroke="#000" stroke-width="1.2" stroke-linecap="butt"/>
<text x="22.3" y="544.6" font-family="Liberation Sans, Arial, sans-serif" font-size="8.0" font-weight="bold" text-anchor="middle" textLength="131.5" lengthAdjust="spacing" fill="#000" transform="rotate(-90 22.3 544.6)" stroke="#000" stroke-width="0.16">Relative colony number</text>
<line x1="86.00" y1="513.50" x2="111.70" y2="513.50" stroke="#333" stroke-width="1.0" stroke-linecap="butt"/>
<text x="98.55" y="514.92" font-family="Liberation Sans, Arial, sans-serif" font-size="10.0" font-weight="bold" text-anchor="middle" letter-spacing="0.8999999999999999" fill="#333" stroke="#333" stroke-width="0.01">***</text>
<text x="24.3" y="615.8" font-family="Liberation Sans, Arial, sans-serif" font-size="9.2" font-weight="bold" text-anchor="start" textLength="17.2" lengthAdjust="spacing" fill="#000" stroke="#000" stroke-width="0.16">Gln</text>
<text x="58.7" y="615.9" font-family="Liberation Sans, Arial, sans-serif" font-size="8" font-weight="bold" text-anchor="middle" fill="#000" stroke="#000" stroke-width="0.16">+</text>
<text x="87.1" y="615.6" font-family="Liberation Sans, Arial, sans-serif" font-size="8.6" font-weight="bold" text-anchor="middle" fill="#000" stroke="#000" stroke-width="0.16">-</text>
<text x="113.9" y="615.6" font-family="Liberation Sans, Arial, sans-serif" font-size="8.6" font-weight="bold" text-anchor="middle" fill="#000" stroke="#000" stroke-width="0.16">-</text>
<text x="24.3" y="630" font-family="Liberation Sans, Arial, sans-serif" font-size="9.2" font-weight="bold" text-anchor="start" textLength="23.6" lengthAdjust="spacing" fill="#000" stroke="#000" stroke-width="0.16">GSH</text>
<text x="60.9" y="630" font-family="Liberation Sans, Arial, sans-serif" font-size="8.6" font-weight="bold" text-anchor="middle" fill="#000" stroke="#000" stroke-width="0.16">-</text>
<text x="85.4" y="630.6" font-family="Liberation Sans, Arial, sans-serif" font-size="8" font-weight="bold" text-anchor="middle" fill="#000" stroke="#000" stroke-width="0.16">+</text>
<text x="113.9" y="630" font-family="Liberation Sans, Arial, sans-serif" font-size="8.6" font-weight="bold" text-anchor="middle" fill="#000" stroke="#000" stroke-width="0.16">-</text>
<text x="32.1" y="650.9" font-family="Liberation Sans, Arial, sans-serif" font-size="9.7" font-weight="bold" text-anchor="start" textLength="109.8" lengthAdjust="spacing" fill="#000" stroke="#000" stroke-width="0.16">Colony Formation</text>
<text x="223.8" y="479.5" font-family="Liberation Sans, Arial, sans-serif" font-size="9" font-weight="bold" text-anchor="start" textLength="58.2" lengthAdjust="spacing" fill="#000" stroke="#000" stroke-width="0.16">HeLa/ddp</text>
<rect x="221.90" y="508.65" width="16.00" height="90.75" fill="#000"/>
<rect x="246.00" y="524.00" width="16.00" height="75.40" fill="#e2e2e2"/>
<rect x="270.10" y="592.40" width="16.00" height="7.00" fill="#808080"/>
<line x1="230.50" y1="492.50" x2="230.50" y2="508.65" stroke="#000" stroke-width="1.05" stroke-linecap="butt"/>
<line x1="226.50" y1="492.50" x2="234.50" y2="492.50" stroke="#000" stroke-width="1.05" stroke-linecap="butt"/>
<line x1="254.50" y1="512.50" x2="254.50" y2="534.50" stroke="#222" stroke-width="1.05" stroke-linecap="butt"/>
<line x1="250.50" y1="512.50" x2="258.50" y2="512.50" stroke="#222" stroke-width="1.05" stroke-linecap="butt"/>
<line x1="250.50" y1="534.50" x2="258.50" y2="534.50" stroke="#222" stroke-width="1.05" stroke-linecap="butt"/>
<line x1="278.50" y1="586.50" x2="278.50" y2="599.40" stroke="#222" stroke-width="1.05" stroke-linecap="butt"/>
<line x1="274.50" y1="586.50" x2="282.50" y2="586.50" stroke="#222" stroke-width="1.05" stroke-linecap="butt"/>
<line x1="217.70" y1="489.75" x2="217.70" y2="600.30" stroke="#000" stroke-width="1.9" stroke-linecap="butt"/>
<line x1="216.80" y1="599.40" x2="291.00" y2="599.40" stroke="#000" stroke-width="1.8" stroke-linecap="butt"/>
<line x1="213.40" y1="599.40" x2="218.20" y2="599.40" stroke="#000" stroke-width="1.4" stroke-linecap="butt"/>
<text x="195.5" y="603.1999999999999" font-family="Liberation Sans, Arial, sans-serif" font-size="8.8" font-weight="bold" text-anchor="start" textLength="14.6" lengthAdjust="spacing" fill="#000" stroke="#000" stroke-width="0.16">0.0</text>
<line x1="213.40" y1="581.25" x2="218.20" y2="581.25" stroke="#000" stroke-width="1.4" stroke-linecap="butt"/>
<text x="195.5" y="585.05" font-family="Liberation Sans, Arial, sans-serif" font-size="8.8" font-weight="bold" text-anchor="start" textLength="14.6" lengthAdjust="spacing" fill="#000" stroke="#000" stroke-width="0.16">0.2</text>
<line x1="213.40" y1="563.10" x2="218.20" y2="563.10" stroke="#000" stroke-width="1.4" stroke-linecap="butt"/>
<text x="195.5" y="566.9" font-family="Liberation Sans, Arial, sans-serif" font-size="8.8" font-weight="bold" text-anchor="start" textLength="14.6" lengthAdjust="spacing" fill="#000" stroke="#000" stroke-width="0.16">0.4</text>
<line x1="213.40" y1="544.95" x2="218.20" y2="544.95" stroke="#000" stroke-width="1.4" stroke-linecap="butt"/>
<text x="195.5" y="548.7499999999999" font-family="Liberation Sans, Arial, sans-serif" font-size="8.8" font-weight="bold" text-anchor="start" textLength="14.6" lengthAdjust="spacing" fill="#000" stroke="#000" stroke-width="0.16">0.6</text>
<line x1="213.40" y1="526.80" x2="218.20" y2="526.80" stroke="#000" stroke-width="1.4" stroke-linecap="butt"/>
<text x="195.5" y="530.5999999999999" font-family="Liberation Sans, Arial, sans-serif" font-size="8.8" font-weight="bold" text-anchor="start" textLength="14.6" lengthAdjust="spacing" fill="#000" stroke="#000" stroke-width="0.16">0.8</text>
<line x1="213.40" y1="508.65" x2="218.20" y2="508.65" stroke="#000" stroke-width="1.4" stroke-linecap="butt"/>
<text x="195.5" y="512.4499999999999" font-family="Liberation Sans, Arial, sans-serif" font-size="8.8" font-weight="bold" text-anchor="start" textLength="14.6" lengthAdjust="spacing" fill="#000" stroke="#000" stroke-width="0.16">1.0</text>
<line x1="213.40" y1="490.50" x2="218.20" y2="490.50" stroke="#000" stroke-width="1.4" stroke-linecap="butt"/>
<text x="195.5" y="494.3" font-family="Liberation Sans, Arial, sans-serif" font-size="8.8" font-weight="bold" text-anchor="start" textLength="14.6" lengthAdjust="spacing" fill="#000" stroke="#000" stroke-width="0.16">1.2</text>
<line x1="253.70" y1="599.40" x2="253.70" y2="603.80" stroke="#000" stroke-width="1.2" stroke-linecap="butt"/>
<text x="187.3" y="545.25" font-family="Liberation Sans, Arial, sans-serif" font-size="8.6" font-weight="bold" text-anchor="middle" textLength="133" lengthAdjust="spacing" fill="#000" transform="rotate(-90 187.3 545.25)" stroke="#000" stroke-width="0.16">Relative colony number</text>
<line x1="254.10" y1="504.50" x2="283.20" y2="504.50" stroke="#333" stroke-width="1.0" stroke-linecap="butt"/>
<text x="268.34999999999997" y="505.72" font-family="Liberation Sans, Arial, sans-serif" font-size="10.0" font-weight="bold" text-anchor="middle" letter-spacing="0.8999999999999999" fill="#333" stroke="#333" stroke-width="0.01">***</text>
<text x="192.6" y="618" font-family="Liberation Sans, Arial, sans-serif" font-size="9.2" font-weight="bold" text-anchor="start" textLength="18.2" lengthAdjust="spacing" fill="#000" stroke="#000" stroke-width="0.16">Gln</text>
<text x="231.1" y="618.3" font-family="Liberation Sans, Arial, sans-serif" font-size="8" font-weight="bold" text-anchor="middle" fill="#000" stroke="#000" stroke-width="0.16">+</text>
<text x="254.8" y="618" font-family="Liberation Sans, Arial, sans-serif" font-size="8.6" font-weight="bold" text-anchor="middle" fill="#000" stroke="#000" stroke-width="0.16">-</text>
<text x="280" y="618" font-family="Liberation Sans, Arial, sans-serif" font-size="8.6" font-weight="bold" text-anchor="middle" fill="#000" stroke="#000" stroke-width="0.16">-</text>
<text x="192.6" y="633.4" font-family="Liberation Sans, Arial, sans-serif" font-size="9.2" font-weight="bold" text-anchor="start" textLength="24.6" lengthAdjust="spacing" fill="#000" stroke="#000" stroke-width="0.16">GSH</text>
<text x="231.1" y="633.4" font-family="Liberation Sans, Arial, sans-serif" font-size="8.6" font-weight="bold" text-anchor="middle" fill="#000" stroke="#000" stroke-width="0.16">-</text>
<text x="252.6" y="633.8" font-family="Liberation Sans, Arial, sans-serif" font-size="8" font-weight="bold" text-anchor="middle" fill="#000" stroke="#000" stroke-width="0.16">+</text>
<text x="280.4" y="633.4" font-family="Liberation Sans, Arial, sans-serif" font-size="8.6" font-weight="bold" text-anchor="middle" fill="#000" stroke="#000" stroke-width="0.16">-</text>
<text x="198" y="650.4" font-family="Liberation Sans, Arial, sans-serif" font-size="9.7" font-weight="bold" text-anchor="start" textLength="111.2" lengthAdjust="spacing" fill="#000" stroke="#000" stroke-width="0.16">Colony Formation</text>
<text x="368.1" y="468.7" font-family="Liberation Sans, Arial, sans-serif" font-size="20.2" font-weight="normal" text-anchor="start" fill="#000" stroke="#000" stroke-width="0.4">H</text>
<text x="508.6" y="456.3" font-family="Liberation Sans, Arial, sans-serif" font-size="9.3" font-weight="bold" text-anchor="start" textLength="30.3" lengthAdjust="spacing" fill="#000" stroke="#000" stroke-width="0.16">HeLa</text>
<rect x="446.20" y="470.70" width="17.60" height="8.10" fill="#000"/>
<text x="473.8" y="478.9" font-family="Liberation Sans, Arial, sans-serif" font-size="9.9" font-weight="bold" text-anchor="start" textLength="61.5" lengthAdjust="spacing" fill="#000" stroke="#000" stroke-width="0.16">GSH Free</text>
<rect x="544.00" y="470.70" width="17.60" height="7.80" fill="#9c9ca0"/>
<text x="571.9" y="478.9" font-family="Liberation Sans, Arial, sans-serif" font-size="9.9" font-weight="bold" text-anchor="start" textLength="27.2" lengthAdjust="spacing" fill="#000" stroke="#000" stroke-width="0.16">GSH</text>
<rect x="447.20" y="582.70" width="12.00" height="55.30" fill="#000"/>
<rect x="465.40" y="564.70" width="12.00" height="73.30" fill="#9c9ca0"/>
<rect x="496.30" y="548.00" width="12.00" height="90.00" fill="#000"/>
<rect x="514.60" y="527.30" width="12.00" height="110.70" fill="#9c9ca0"/>
<rect x="545.30" y="499.40" width="12.10" height="138.60" fill="#000"/>
<rect x="563.70" y="500.10" width="12.10" height="137.90" fill="#9c9ca0"/>
<line x1="453.50" y1="579.50" x2="453.50" y2="582.70" stroke="#000" stroke-width="0.9" stroke-linecap="butt"/>
<line x1="450.40" y1="579.50" x2="456.60" y2="579.50" stroke="#000" stroke-width="0.9" stroke-linecap="butt"/>
<line x1="471.50" y1="562.50" x2="471.50" y2="567.50" stroke="#222" stroke-width="0.9" stroke-linecap="butt"/>
<line x1="468.40" y1="562.50" x2="474.60" y2="562.50" stroke="#222" stroke-width="0.9" stroke-linecap="butt"/>
<line x1="468.40" y1="567.50" x2="474.60" y2="567.50" stroke="#222" stroke-width="0.9" stroke-linecap="butt"/>
<line x1="502.50" y1="541.50" x2="502.50" y2="548.00" stroke="#000" stroke-width="0.9" stroke-linecap="butt"/>
<line x1="499.40" y1="541.50" x2="505.60" y2="541.50" stroke="#000" stroke-width="0.9" stroke-linecap="butt"/>
<line x1="520.50" y1="521.50" x2="520.50" y2="533.50" stroke="#222" stroke-width="0.9" stroke-linecap="butt"/>
<line x1="517.40" y1="521.50" x2="523.60" y2="521.50" stroke="#222" stroke-width="0.9" stroke-linecap="butt"/>
<line x1="517.40" y1="533.50" x2="523.60" y2="533.50" stroke="#222" stroke-width="0.9" stroke-linecap="butt"/>
<line x1="551.50" y1="496.50" x2="551.50" y2="499.40" stroke="#000" stroke-width="0.9" stroke-linecap="butt"/>
<line x1="548.40" y1="496.50" x2="554.60" y2="496.50" stroke="#000" stroke-width="0.9" stroke-linecap="butt"/>
<line x1="569.50" y1="495.50" x2="569.50" y2="504.50" stroke="#222" stroke-width="0.9" stroke-linecap="butt"/>
<line x1="566.40" y1="495.50" x2="572.60" y2="495.50" stroke="#222" stroke-width="0.9" stroke-linecap="butt"/>
<line x1="566.40" y1="504.50" x2="572.60" y2="504.50" stroke="#222" stroke-width="0.9" stroke-linecap="butt"/>
<line x1="437.50" y1="471.05" x2="437.50" y2="638.90" stroke="#000" stroke-width="1.95" stroke-linecap="butt"/>
<line x1="436.55" y1="638.00" x2="585.40" y2="638.00" stroke="#000" stroke-width="1.8" stroke-linecap="butt"/>
<line x1="433.40" y1="638.00" x2="437.70" y2="638.00" stroke="#000" stroke-width="1.3" stroke-linecap="butt"/>
<text x="415.3" y="641.8" font-family="Liberation Sans, Arial, sans-serif" font-size="9.0" font-weight="bold" text-anchor="start" textLength="13.9" lengthAdjust="spacing" fill="#000" stroke="#000" stroke-width="0.16">0.0</text>
<line x1="433.40" y1="610.30" x2="437.70" y2="610.30" stroke="#000" stroke-width="1.3" stroke-linecap="butt"/>
<text x="415.3" y="614.0999999999999" font-family="Liberation Sans, Arial, sans-serif" font-size="9.0" font-weight="bold" text-anchor="start" textLength="13.9" lengthAdjust="spacing" fill="#000" stroke="#000" stroke-width="0.16">0.2</text>
<line x1="433.40" y1="582.60" x2="437.70" y2="582.60" stroke="#000" stroke-width="1.3" stroke-linecap="butt"/>
<text x="415.3" y="586.4" font-family="Liberation Sans, Arial, sans-serif" font-size="9.0" font-weight="bold" text-anchor="start" textLength="13.9" lengthAdjust="spacing" fill="#000" stroke="#000" stroke-width="0.16">0.4</text>
<line x1="433.40" y1="554.90" x2="437.70" y2="554.90" stroke="#000" stroke-width="1.3" stroke-linecap="butt"/>
<text x="415.3" y="558.6999999999999" font-family="Liberation Sans, Arial, sans-serif" font-size="9.0" font-weight="bold" text-anchor="start" textLength="13.9" lengthAdjust="spacing" fill="#000" stroke="#000" stroke-width="0.16">0.6</text>
<line x1="433.40" y1="527.20" x2="437.70" y2="527.20" stroke="#000" stroke-width="1.3" stroke-linecap="butt"/>
<text x="415.3" y="531.0" font-family="Liberation Sans, Arial, sans-serif" font-size="9.0" font-weight="bold" text-anchor="start" textLength="13.9" lengthAdjust="spacing" fill="#000" stroke="#000" stroke-width="0.16">0.8</text>
<line x1="433.40" y1="499.50" x2="437.70" y2="499.50" stroke="#000" stroke-width="1.3" stroke-linecap="butt"/>
<text x="415.3" y="503.3" font-family="Liberation Sans, Arial, sans-serif" font-size="9.0" font-weight="bold" text-anchor="start" textLength="13.9" lengthAdjust="spacing" fill="#000" stroke="#000" stroke-width="0.16">1.0</text>
<line x1="433.40" y1="471.80" x2="437.70" y2="471.80" stroke="#000" stroke-width="1.3" stroke-linecap="butt"/>
<text x="415.3" y="475.59999999999997" font-family="Liberation Sans, Arial, sans-serif" font-size="9.0" font-weight="bold" text-anchor="start" textLength="13.9" lengthAdjust="spacing" fill="#000" stroke="#000" stroke-width="0.16">1.2</text>
<line x1="462.30" y1="638.00" x2="462.30" y2="642.80" stroke="#000" stroke-width="1.5" stroke-linecap="butt"/>
<line x1="511.40" y1="638.00" x2="511.40" y2="642.80" stroke="#000" stroke-width="1.5" stroke-linecap="butt"/>
<line x1="560.80" y1="638.00" x2="560.80" y2="642.80" stroke="#000" stroke-width="1.5" stroke-linecap="butt"/>
<text x="406.20000000000005" y="554.85" font-family="Liberation Sans, Arial, sans-serif" font-size="9.1" font-weight="bold" text-anchor="middle" textLength="157.59999999999997" lengthAdjust="spacing" fill="#000" transform="rotate(-90 406.20000000000005 554.85)" stroke="#000" stroke-width="0.16">Relative proliferation(% )</text>
<text x="465.7" y="651.8" font-family="Liberation Sans, Arial, sans-serif" font-size="9.0" font-weight="bold" text-anchor="end" letter-spacing="2.0" fill="#000" transform="rotate(-45 465.7 651.8)" stroke="#000" stroke-width="0.16">0µmol Gln</text>
<text x="514.8" y="651.8" font-family="Liberation Sans, Arial, sans-serif" font-size="9.0" font-weight="bold" text-anchor="end" letter-spacing="2.0" fill="#000" transform="rotate(-45 514.8 651.8)" stroke="#000" stroke-width="0.16">0.5µmol Gln</text>
<text x="564.1999999999999" y="651.8" font-family="Liberation Sans, Arial, sans-serif" font-size="9.0" font-weight="bold" text-anchor="end" letter-spacing="2.0" fill="#000" transform="rotate(-45 564.1999999999999 651.8)" stroke="#000" stroke-width="0.16">1µmol Gln</text>
<line x1="451.80" y1="555.50" x2="473.00" y2="555.50" stroke="#333" stroke-width="1.0" stroke-linecap="butt"/>
<text x="462.09999999999997" y="556.02" font-family="Liberation Sans, Arial, sans-serif" font-size="10.0" font-weight="bold" text-anchor="middle" letter-spacing="0.8999999999999999" fill="#333" stroke="#333" stroke-width="0.01">**</text>
<line x1="500.70" y1="513.50" x2="521.50" y2="513.50" stroke="#333" stroke-width="1.0" stroke-linecap="butt"/>
<text x="510.8" y="514.02" font-family="Liberation Sans, Arial, sans-serif" font-size="10.0" font-weight="bold" text-anchor="middle" letter-spacing="0.8999999999999999" fill="#333" stroke="#333" stroke-width="0.01">**</text>
<text x="39.3" y="729.2" font-family="Liberation Sans, Arial, sans-serif" font-size="20.3" font-weight="normal" text-anchor="start" fill="#000" stroke="#000" stroke-width="1.3">I</text>
<text x="153.2" y="722.5" font-family="Liberation Sans, Arial, sans-serif" font-size="9.3" font-weight="bold" text-anchor="start" textLength="61.2" lengthAdjust="spacing" fill="#000" stroke="#000" stroke-width="0.16">HeLa/ddp</text>
<rect x="110.10" y="735.40" width="17.60" height="8.10" fill="#000"/>
<text x="138.2" y="743.8" font-family="Liberation Sans, Arial, sans-serif" font-size="9.9" font-weight="bold" text-anchor="start" textLength="62.4" lengthAdjust="spacing" fill="#000" stroke="#000" stroke-width="0.16">GSH Free</text>
<rect x="210.10" y="736.20" width="18.00" height="8.10" fill="#9c9ca0"/>
<text x="238" y="744.3" font-family="Liberation Sans, Arial, sans-serif" font-size="9.9" font-weight="bold" text-anchor="start" textLength="27.8" lengthAdjust="spacing" fill="#000" stroke="#000" stroke-width="0.16">GSH</text>
<rect x="108.20" y="876.50" width="12.20" height="30.90" fill="#000"/>
<rect x="127.00" y="868.20" width="12.10" height="39.20" fill="#9c9ca0"/>
<rect x="158.20" y="835.10" width="12.30" height="72.30" fill="#000"/>
<rect x="177.40" y="794.60" width="12.20" height="112.80" fill="#9c9ca0"/>
<rect x="208.50" y="766.40" width="12.30" height="141.00" fill="#000"/>
<rect x="227.40" y="768.00" width="12.20" height="139.40" fill="#9c9ca0"/>
<line x1="114.50" y1="875.50" x2="114.50" y2="877.50" stroke="#000" stroke-width="0.9" stroke-linecap="butt"/>
<line x1="111.40" y1="875.50" x2="117.60" y2="875.50" stroke="#000" stroke-width="0.9" stroke-linecap="butt"/>
<line x1="111.40" y1="877.50" x2="117.60" y2="877.50" stroke="#000" stroke-width="0.9" stroke-linecap="butt"/>
<line x1="133.50" y1="867.50" x2="133.50" y2="869.50" stroke="#222" stroke-width="0.9" stroke-linecap="butt"/>
<line x1="130.40" y1="867.50" x2="136.60" y2="867.50" stroke="#222" stroke-width="0.9" stroke-linecap="butt"/>
<line x1="130.40" y1="869.50" x2="136.60" y2="869.50" stroke="#222" stroke-width="0.9" stroke-linecap="butt"/>
<line x1="164.50" y1="834.50" x2="164.50" y2="835.50" stroke="#000" stroke-width="0.9" stroke-linecap="butt"/>
<line x1="161.40" y1="834.50" x2="167.60" y2="834.50" stroke="#000" stroke-width="0.9" stroke-linecap="butt"/>
<line x1="161.40" y1="835.50" x2="167.60" y2="835.50" stroke="#000" stroke-width="0.9" stroke-linecap="butt"/>
<line x1="183.50" y1="792.50" x2="183.50" y2="796.50" stroke="#222" stroke-width="0.9" stroke-linecap="butt"/>
<line x1="180.40" y1="792.50" x2="186.60" y2="792.50" stroke="#222" stroke-width="0.9" stroke-linecap="butt"/>
<line x1="180.40" y1="796.50" x2="186.60" y2="796.50" stroke="#222" stroke-width="0.9" stroke-linecap="butt"/>
<line x1="214.50" y1="762.50" x2="214.50" y2="766.40" stroke="#000" stroke-width="0.9" stroke-linecap="butt"/>
<line x1="211.40" y1="762.50" x2="217.60" y2="762.50" stroke="#000" stroke-width="0.9" stroke-linecap="butt"/>
<line x1="233.50" y1="765.50" x2="233.50" y2="770.50" stroke="#222" stroke-width="0.9" stroke-linecap="butt"/>
<line x1="230.40" y1="765.50" x2="236.60" y2="765.50" stroke="#222" stroke-width="0.9" stroke-linecap="butt"/>
<line x1="230.40" y1="770.50" x2="236.60" y2="770.50" stroke="#222" stroke-width="0.9" stroke-linecap="butt"/>
<line x1="99.30" y1="737.45" x2="99.30" y2="908.30" stroke="#000" stroke-width="1.95" stroke-linecap="butt"/>
<line x1="98.35" y1="907.40" x2="249.90" y2="907.40" stroke="#000" stroke-width="1.8" stroke-linecap="butt"/>
<line x1="95.20" y1="907.40" x2="99.50" y2="907.40" stroke="#000" stroke-width="1.3" stroke-linecap="butt"/>
<text x="76.39999999999999" y="911.1999999999999" font-family="Liberation Sans, Arial, sans-serif" font-size="9.0" font-weight="bold" text-anchor="start" textLength="14.3" lengthAdjust="spacing" fill="#000" stroke="#000" stroke-width="0.16">0.0</text>
<line x1="95.20" y1="879.20" x2="99.50" y2="879.20" stroke="#000" stroke-width="1.3" stroke-linecap="butt"/>
<text x="76.39999999999999" y="882.9999999999999" font-family="Liberation Sans, Arial, sans-serif" font-size="9.0" font-weight="bold" text-anchor="start" textLength="14.3" lengthAdjust="spacing" fill="#000" stroke="#000" stroke-width="0.16">0.2</text>
<line x1="95.20" y1="851.00" x2="99.50" y2="851.00" stroke="#000" stroke-width="1.3" stroke-linecap="butt"/>
<text x="76.39999999999999" y="854.8" font-family="Liberation Sans, Arial, sans-serif" font-size="9.0" font-weight="bold" text-anchor="start" textLength="14.3" lengthAdjust="spacing" fill="#000" stroke="#000" stroke-width="0.16">0.4</text>
<line x1="95.20" y1="822.80" x2="99.50" y2="822.80" stroke="#000" stroke-width="1.3" stroke-linecap="butt"/>
<text x="76.39999999999999" y="826.5999999999999" font-family="Liberation Sans, Arial, sans-serif" font-size="9.0" font-weight="bold" text-anchor="start" textLength="14.3" lengthAdjust="spacing" fill="#000" stroke="#000" stroke-width="0.16">0.6</text>
<line x1="95.20" y1="794.60" x2="99.50" y2="794.60" stroke="#000" stroke-width="1.3" stroke-linecap="butt"/>
<text x="76.39999999999999" y="798.3999999999999" font-family="Liberation Sans, Arial, sans-serif" font-size="9.0" font-weight="bold" text-anchor="start" textLength="14.3" lengthAdjust="spacing" fill="#000" stroke="#000" stroke-width="0.16">0.8</text>
<line x1="95.20" y1="766.40" x2="99.50" y2="766.40" stroke="#000" stroke-width="1.3" stroke-linecap="butt"/>
<text x="76.39999999999999" y="770.1999999999999" font-family="Liberation Sans, Arial, sans-serif" font-size="9.0" font-weight="bold" text-anchor="start" textLength="14.3" lengthAdjust="spacing" fill="#000" stroke="#000" stroke-width="0.16">1.0</text>
<line x1="95.20" y1="738.20" x2="99.50" y2="738.20" stroke="#000" stroke-width="1.3" stroke-linecap="butt"/>
<text x="76.39999999999999" y="741.9999999999999" font-family="Liberation Sans, Arial, sans-serif" font-size="9.0" font-weight="bold" text-anchor="start" textLength="14.3" lengthAdjust="spacing" fill="#000" stroke="#000" stroke-width="0.16">1.2</text>
<line x1="123.90" y1="907.40" x2="123.90" y2="912.20" stroke="#000" stroke-width="1.5" stroke-linecap="butt"/>
<line x1="174.00" y1="907.40" x2="174.00" y2="912.20" stroke="#000" stroke-width="1.5" stroke-linecap="butt"/>
<line x1="224.00" y1="907.40" x2="224.00" y2="912.20" stroke="#000" stroke-width="1.5" stroke-linecap="butt"/>
<text x="67.39999999999999" y="822.7" font-family="Liberation Sans, Arial, sans-serif" font-size="9.1" font-weight="bold" text-anchor="middle" textLength="159.89999999999998" lengthAdjust="spacing" fill="#000" transform="rotate(-90 67.39999999999999 822.7)" stroke="#000" stroke-width="0.16">Relative proliferation(% )</text>
<text x="127.30000000000001" y="921.1999999999999" font-family="Liberation Sans, Arial, sans-serif" font-size="9.0" font-weight="bold" text-anchor="end" letter-spacing="2.0" fill="#000" transform="rotate(-45 127.30000000000001 921.1999999999999)" stroke="#000" stroke-width="0.16">0µmol Gln</text>
<text x="177.4" y="921.1999999999999" font-family="Liberation Sans, Arial, sans-serif" font-size="9.0" font-weight="bold" text-anchor="end" letter-spacing="2.0" fill="#000" transform="rotate(-45 177.4 921.1999999999999)" stroke="#000" stroke-width="0.16">1µmol Gln</text>
<text x="227.4" y="921.1999999999999" font-family="Liberation Sans, Arial, sans-serif" font-size="9.0" font-weight="bold" text-anchor="end" letter-spacing="2.0" fill="#000" transform="rotate(-45 227.4 921.1999999999999)" stroke="#000" stroke-width="0.16">2µmol Gln</text>
<line x1="112.60" y1="859.50" x2="134.10" y2="859.50" stroke="#333" stroke-width="1.0" stroke-linecap="butt"/>
<text x="123.05" y="860.02" font-family="Liberation Sans, Arial, sans-serif" font-size="10.0" font-weight="bold" text-anchor="middle" letter-spacing="0.8999999999999999" fill="#333" stroke="#333" stroke-width="0.01">**</text>
<line x1="162.10" y1="787.50" x2="185.60" y2="787.50" stroke="#333" stroke-width="1.0" stroke-linecap="butt"/>
<text x="173.54999999999998" y="788.02" font-family="Liberation Sans, Arial, sans-serif" font-size="10.0" font-weight="bold" text-anchor="middle" letter-spacing="0.8999999999999999" fill="#333" stroke="#333" stroke-width="0.01">***</text>
<text x="316.3" y="736.7" font-family="Liberation Sans, Arial, sans-serif" font-size="20.5" font-weight="normal" text-anchor="start" fill="#000" stroke="#000" stroke-width="1.0">J</text>
<line x1="386.10" y1="747.60" x2="386.10" y2="919.20" stroke="#000" stroke-width="1.9" stroke-linecap="butt"/>
<line x1="385.20" y1="918.30" x2="642.10" y2="918.30" stroke="#000" stroke-width="1.8" stroke-linecap="butt"/>
<line x1="381.00" y1="918.30" x2="386.10" y2="918.30" stroke="#000" stroke-width="1.4" stroke-linecap="butt"/>
<text x="378.4" y="922.5999999999999" font-family="Liberation Sans, Arial, sans-serif" font-size="9.6" font-weight="bold" text-anchor="end" letter-spacing="1.2" fill="#000" stroke="#000" stroke-width="0.16">0</text>
<line x1="381.00" y1="884.30" x2="386.10" y2="884.30" stroke="#000" stroke-width="1.4" stroke-linecap="butt"/>
<text x="378.4" y="888.5999999999999" font-family="Liberation Sans, Arial, sans-serif" font-size="9.6" font-weight="bold" text-anchor="end" letter-spacing="1.2" fill="#000" stroke="#000" stroke-width="0.16">100</text>
<line x1="381.00" y1="850.30" x2="386.10" y2="850.30" stroke="#000" stroke-width="1.4" stroke-linecap="butt"/>
<text x="378.4" y="854.5999999999999" font-family="Liberation Sans, Arial, sans-serif" font-size="9.6" font-weight="bold" text-anchor="end" letter-spacing="1.2" fill="#000" stroke="#000" stroke-width="0.16">200</text>
<line x1="381.00" y1="816.30" x2="386.10" y2="816.30" stroke="#000" stroke-width="1.4" stroke-linecap="butt"/>
<text x="378.4" y="820.5999999999999" font-family="Liberation Sans, Arial, sans-serif" font-size="9.6" font-weight="bold" text-anchor="end" letter-spacing="1.2" fill="#000" stroke="#000" stroke-width="0.16">300</text>
<line x1="381.00" y1="782.30" x2="386.10" y2="782.30" stroke="#000" stroke-width="1.4" stroke-linecap="butt"/>
<text x="378.4" y="786.5999999999999" font-family="Liberation Sans, Arial, sans-serif" font-size="9.6" font-weight="bold" text-anchor="end" letter-spacing="1.2" fill="#000" stroke="#000" stroke-width="0.16">400</text>
<line x1="381.00" y1="748.30" x2="386.10" y2="748.30" stroke="#000" stroke-width="1.4" stroke-linecap="butt"/>
<text x="378.4" y="752.5999999999999" font-family="Liberation Sans, Arial, sans-serif" font-size="9.6" font-weight="bold" text-anchor="end" letter-spacing="1.2" fill="#000" stroke="#000" stroke-width="0.16">500</text>
<line x1="386.00" y1="918.30" x2="386.00" y2="923.30" stroke="#000" stroke-width="1.4" stroke-linecap="butt"/>
<text x="389.3" y="926.9" font-family="Liberation Sans, Arial, sans-serif" font-size="9.6" font-weight="bold" text-anchor="end" letter-spacing="1.0" fill="#000" transform="rotate(-90 389.3 926.9)" stroke="#000" stroke-width="0.16">0</text>
<line x1="449.80" y1="918.30" x2="449.80" y2="923.30" stroke="#000" stroke-width="1.4" stroke-linecap="butt"/>
<text x="453.1" y="926.9" font-family="Liberation Sans, Arial, sans-serif" font-size="9.6" font-weight="bold" text-anchor="end" letter-spacing="1.0" fill="#000" transform="rotate(-90 453.1 926.9)" stroke="#000" stroke-width="0.16">10</text>
<line x1="513.60" y1="918.30" x2="513.60" y2="923.30" stroke="#000" stroke-width="1.4" stroke-linecap="butt"/>
<text x="516.9" y="926.9" font-family="Liberation Sans, Arial, sans-serif" font-size="9.6" font-weight="bold" text-anchor="end" letter-spacing="1.0" fill="#000" transform="rotate(-90 516.9 926.9)" stroke="#000" stroke-width="0.16">20</text>
<line x1="577.40" y1="918.30" x2="577.40" y2="923.30" stroke="#000" stroke-width="1.4" stroke-linecap="butt"/>
<text x="580.6999999999999" y="926.9" font-family="Liberation Sans, Arial, sans-serif" font-size="9.6" font-weight="bold" text-anchor="end" letter-spacing="1.0" fill="#000" transform="rotate(-90 580.6999999999999 926.9)" stroke="#000" stroke-width="0.16">30</text>
<line x1="641.20" y1="918.30" x2="641.20" y2="923.30" stroke="#000" stroke-width="1.4" stroke-linecap="butt"/>
<text x="644.5" y="926.9" font-family="Liberation Sans, Arial, sans-serif" font-size="9.6" font-weight="bold" text-anchor="end" letter-spacing="1.0" fill="#000" transform="rotate(-90 644.5 926.9)" stroke="#000" stroke-width="0.16">40</text>
<text x="344.2" y="834.0" font-family="Liberation Sans, Arial, sans-serif" font-size="9.8" font-weight="bold" text-anchor="middle" textLength="136" lengthAdjust="spacing" fill="#000" transform="rotate(-90 344.2 834.0)" stroke="#000" stroke-width="0.16">Tumor Volume(mm )</text>
<text x="337.6" y="773.4" font-family="Liberation Sans, Arial, sans-serif" font-size="6.3" font-weight="bold" text-anchor="middle" fill="#000" transform="rotate(-90 337.6 773.4)" stroke="#000" stroke-width="0.16">3</text>
<text x="497" y="954.8" font-family="Liberation Sans, Arial, sans-serif" font-size="9.5" font-weight="bold" text-anchor="start" textLength="31.2" lengthAdjust="spacing" fill="#000" stroke="#000" stroke-width="0.16">Days</text>
<polyline points="392.4,918.3 411.5,918.3 430.7,918.3 449.8,918.0 475.3,915.6 494.5,911.2 513.6,907.1 532.7,903.0 558.3,897.2 577.4,890.1 602.9,883.3" fill="none" stroke="#000" stroke-width="1.5" stroke-dasharray="4.5 3"/>
<line x1="494.50" y1="908.50" x2="494.50" y2="915.50" stroke="#000" stroke-width="1.2" stroke-linecap="butt"/>
<line x1="491.00" y1="908.50" x2="498.00" y2="908.50" stroke="#000" stroke-width="1.2" stroke-linecap="butt"/>
<line x1="491.00" y1="915.50" x2="498.00" y2="915.50" stroke="#000" stroke-width="1.2" stroke-linecap="butt"/>
<line x1="513.50" y1="901.50" x2="513.50" y2="913.50" stroke="#000" stroke-width="1.2" stroke-linecap="butt"/>
<line x1="510.00" y1="901.50" x2="517.00" y2="901.50" stroke="#000" stroke-width="1.2" stroke-linecap="butt"/>
<line x1="510.00" y1="913.50" x2="517.00" y2="913.50" stroke="#000" stroke-width="1.2" stroke-linecap="butt"/>
<line x1="532.50" y1="897.50" x2="532.50" y2="908.50" stroke="#000" stroke-width="1.2" stroke-linecap="butt"/>
<line x1="529.00" y1="897.50" x2="536.00" y2="897.50" stroke="#000" stroke-width="1.2" stroke-linecap="butt"/>
<line x1="529.00" y1="908.50" x2="536.00" y2="908.50" stroke="#000" stroke-width="1.2" stroke-linecap="butt"/>
<line x1="558.50" y1="890.50" x2="558.50" y2="903.50" stroke="#000" stroke-width="1.2" stroke-linecap="butt"/>
<line x1="555.00" y1="890.50" x2="562.00" y2="890.50" stroke="#000" stroke-width="1.2" stroke-linecap="butt"/>
<line x1="555.00" y1="903.50" x2="562.00" y2="903.50" stroke="#000" stroke-width="1.2" stroke-linecap="butt"/>
<line x1="577.50" y1="882.50" x2="577.50" y2="897.50" stroke="#000" stroke-width="1.2" stroke-linecap="butt"/>
<line x1="574.00" y1="882.50" x2="581.00" y2="882.50" stroke="#000" stroke-width="1.2" stroke-linecap="butt"/>
<line x1="574.00" y1="897.50" x2="581.00" y2="897.50" stroke="#000" stroke-width="1.2" stroke-linecap="butt"/>
<line x1="602.50" y1="876.50" x2="602.50" y2="890.50" stroke="#000" stroke-width="1.2" stroke-linecap="butt"/>
<line x1="599.00" y1="876.50" x2="606.00" y2="876.50" stroke="#000" stroke-width="1.2" stroke-linecap="butt"/>
<line x1="599.00" y1="890.50" x2="606.00" y2="890.50" stroke="#000" stroke-width="1.2" stroke-linecap="butt"/>
<rect x="389.28" y="915.20" width="6.20" height="6.20" fill="#fff" stroke="#000" stroke-width="1.3"/>
<rect x="408.42" y="915.20" width="6.20" height="6.20" fill="#fff" stroke="#000" stroke-width="1.3"/>
<rect x="427.56" y="915.20" width="6.20" height="6.20" fill="#fff" stroke="#000" stroke-width="1.3"/>
<rect x="446.70" y="914.86" width="6.20" height="6.20" fill="#fff" stroke="#000" stroke-width="1.3"/>
<rect x="491.36" y="908.06" width="6.20" height="6.20" fill="#fff" stroke="#000" stroke-width="1.3"/>
<line x1="494.06" y1="911.36" x2="496.86" y2="911.36" stroke="#000" stroke-width="0.9" stroke-linecap="butt"/>
<rect x="510.50" y="903.98" width="6.20" height="6.20" fill="#fff" stroke="#000" stroke-width="1.3"/>
<line x1="513.20" y1="907.28" x2="516.00" y2="907.28" stroke="#000" stroke-width="0.9" stroke-linecap="butt"/>
<rect x="529.64" y="899.90" width="6.20" height="6.20" fill="#fff" stroke="#000" stroke-width="1.3"/>
<line x1="532.34" y1="903.20" x2="535.14" y2="903.20" stroke="#000" stroke-width="0.9" stroke-linecap="butt"/>
<rect x="555.16" y="894.12" width="6.20" height="6.20" fill="#fff" stroke="#000" stroke-width="1.3"/>
<line x1="557.86" y1="897.42" x2="560.66" y2="897.42" stroke="#000" stroke-width="0.9" stroke-linecap="butt"/>
<rect x="574.30" y="886.98" width="6.20" height="6.20" fill="#fff" stroke="#000" stroke-width="1.3"/>
<line x1="577.00" y1="890.28" x2="579.80" y2="890.28" stroke="#000" stroke-width="0.9" stroke-linecap="butt"/>
<rect x="599.82" y="880.18" width="6.20" height="6.20" fill="#fff" stroke="#000" stroke-width="1.3"/>
<line x1="602.52" y1="883.48" x2="605.32" y2="883.48" stroke="#000" stroke-width="0.9" stroke-linecap="butt"/>
<path d="M392.4,918.3 C395.4,918.3 405.4,918.4 411.5,918.3 C417.6,918.2 424.5,918.4 430.7,918.0 C436.8,917.5 442.7,916.8 449.8,915.6 C456.9,914.3 468.2,912.3 475.3,910.1 C482.5,908.0 488.3,905.5 494.5,902.0 C500.6,898.5 507.5,893.5 513.6,888.4 C519.7,883.3 525.6,876.7 532.7,870.0 C539.9,863.4 551.1,854.5 558.3,846.9 C565.4,839.3 570.3,832.7 577.4,822.8 C584.5,812.9 598.8,791.1 602.9,785.0" fill="none" stroke="#000" stroke-width="1.6" stroke-linejoin="round"/>
<line x1="513.50" y1="883.50" x2="513.50" y2="894.50" stroke="#000" stroke-width="1.3" stroke-linecap="butt"/>
<line x1="510.00" y1="883.50" x2="517.00" y2="883.50" stroke="#000" stroke-width="1.3" stroke-linecap="butt"/>
<line x1="510.00" y1="894.50" x2="517.00" y2="894.50" stroke="#000" stroke-width="1.3" stroke-linecap="butt"/>
<line x1="532.50" y1="862.50" x2="532.50" y2="878.50" stroke="#000" stroke-width="1.3" stroke-linecap="butt"/>
<line x1="529.00" y1="862.50" x2="536.00" y2="862.50" stroke="#000" stroke-width="1.3" stroke-linecap="butt"/>
<line x1="529.00" y1="878.50" x2="536.00" y2="878.50" stroke="#000" stroke-width="1.3" stroke-linecap="butt"/>
<line x1="558.50" y1="837.50" x2="558.50" y2="856.50" stroke="#000" stroke-width="1.3" stroke-linecap="butt"/>
<line x1="555.00" y1="837.50" x2="562.00" y2="837.50" stroke="#000" stroke-width="1.3" stroke-linecap="butt"/>
<line x1="555.00" y1="856.50" x2="562.00" y2="856.50" stroke="#000" stroke-width="1.3" stroke-linecap="butt"/>
<line x1="577.50" y1="812.50" x2="577.50" y2="833.50" stroke="#000" stroke-width="1.3" stroke-linecap="butt"/>
<line x1="574.00" y1="812.50" x2="581.00" y2="812.50" stroke="#000" stroke-width="1.3" stroke-linecap="butt"/>
<line x1="574.00" y1="833.50" x2="581.00" y2="833.50" stroke="#000" stroke-width="1.3" stroke-linecap="butt"/>
<line x1="602.50" y1="763.50" x2="602.50" y2="806.50" stroke="#000" stroke-width="1.3" stroke-linecap="butt"/>
<line x1="599.00" y1="763.50" x2="606.00" y2="763.50" stroke="#000" stroke-width="1.3" stroke-linecap="butt"/>
<line x1="599.00" y1="806.50" x2="606.00" y2="806.50" stroke="#000" stroke-width="1.3" stroke-linecap="butt"/>
<circle cx="392.4" cy="918.3" r="3.1" fill="#000"/>
<circle cx="411.5" cy="918.3" r="3.1" fill="#000"/>
<circle cx="430.7" cy="918.0" r="3.1" fill="#000"/>
<circle cx="449.8" cy="915.6" r="3.1" fill="#000"/>
<circle cx="475.3" cy="910.1" r="3.1" fill="#000"/>
<circle cx="494.5" cy="902.0" r="3.1" fill="#000"/>
<circle cx="513.6" cy="888.4" r="3.1" fill="#000"/>
<circle cx="532.7" cy="870.0" r="3.1" fill="#000"/>
<circle cx="558.3" cy="846.9" r="3.1" fill="#000"/>
<circle cx="577.4" cy="822.8" r="3.1" fill="#000"/>
<circle cx="602.9" cy="785.0" r="3.1" fill="#000"/>
<text x="601.5" y="760.12" font-family="Liberation Sans, Arial, sans-serif" font-size="10.0" font-weight="bold" text-anchor="middle" letter-spacing="1.2999999999999998" fill="#222" stroke="#222" stroke-width="0.01">***</text>
<text x="575.8000000000001" y="807.42" font-family="Liberation Sans, Arial, sans-serif" font-size="10.0" font-weight="bold" text-anchor="middle" letter-spacing="1.2999999999999998" fill="#222" stroke="#222" stroke-width="0.01">***</text>
<text x="555.1" y="835.12" font-family="Liberation Sans, Arial, sans-serif" font-size="10.0" font-weight="bold" text-anchor="middle" letter-spacing="1.2999999999999998" fill="#222" stroke="#222" stroke-width="0.01">***</text>
<text x="531.4000000000001" y="858.52" font-family="Liberation Sans, Arial, sans-serif" font-size="10.0" font-weight="bold" text-anchor="middle" letter-spacing="0.8999999999999999" fill="#222" stroke="#222" stroke-width="0.01">*</text>
<line x1="402.80" y1="747.20" x2="421.00" y2="747.20" stroke="#000" stroke-width="1.6" stroke-linecap="butt"/>
<circle cx="411.9" cy="747.2" r="3.1" fill="#000"/>
<text x="431.3" y="750.9" font-family="Liberation Sans, Arial, sans-serif" font-size="9.9" font-weight="bold" text-anchor="start" textLength="65.2" lengthAdjust="spacing" fill="#000" stroke="#000" stroke-width="0.16">shControl</text>
<line x1="402.80" y1="765.30" x2="406.80" y2="765.30" stroke="#000" stroke-width="1.5" stroke-linecap="butt"/>
<line x1="418.40" y1="765.30" x2="419.60" y2="765.30" stroke="#000" stroke-width="1.5" stroke-linecap="butt"/>
<rect x="408.70" y="762.10" width="6.40" height="6.40" fill="#fff" stroke="#000" stroke-width="1.2"/>
<line x1="411.50" y1="765.40" x2="414.50" y2="765.40" stroke="#000" stroke-width="1.0" stroke-linecap="butt"/>
<text x="431.3" y="769.0" font-family="Liberation Sans, Arial, sans-serif" font-size="9.9" font-weight="bold" text-anchor="start" textLength="66.2" lengthAdjust="spacing" fill="#000" stroke="#000" stroke-width="0.16">shGOT1#1</text>
</svg></body></html>
